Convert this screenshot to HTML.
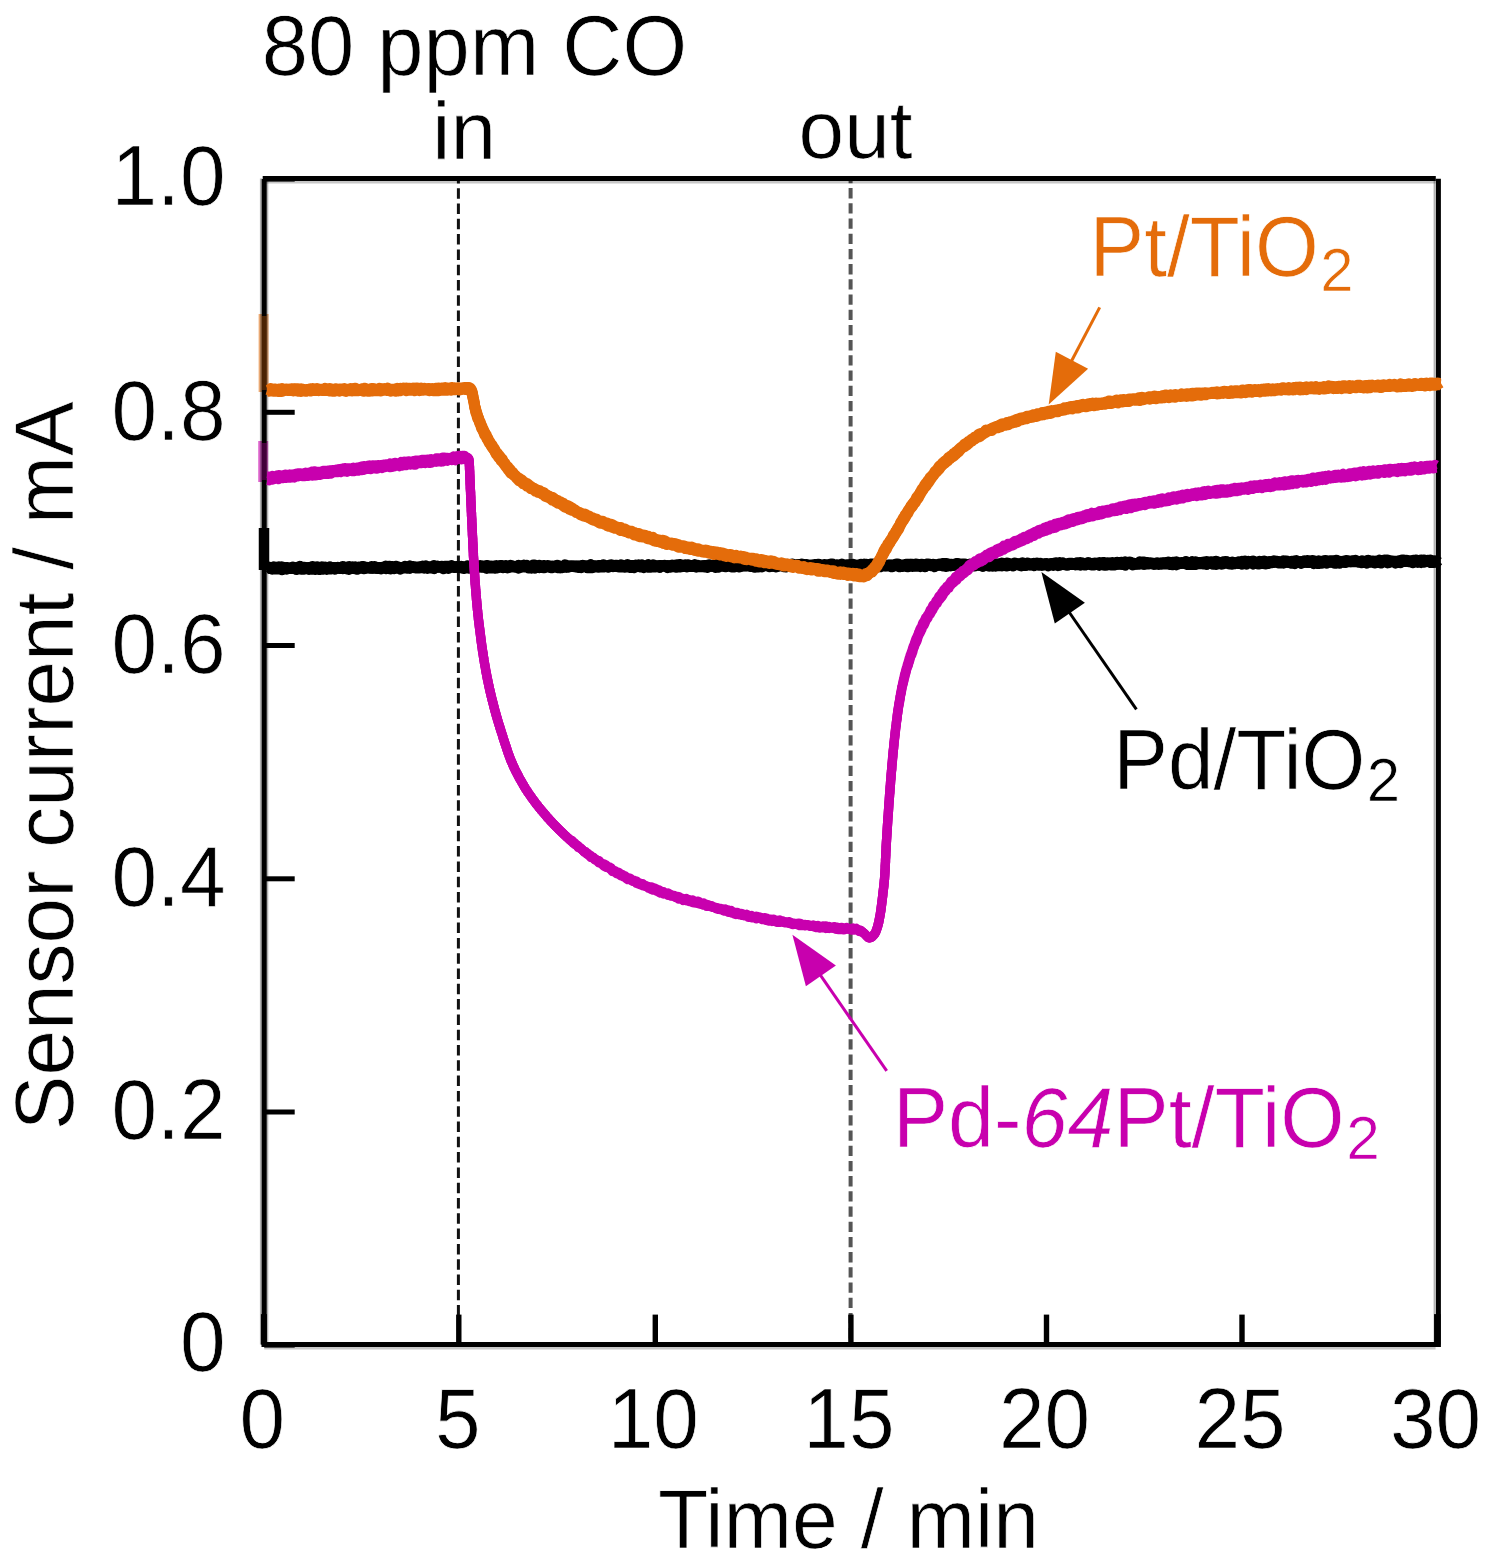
<!DOCTYPE html>
<html lang="en"><head><meta charset="utf-8"><title>Sensor current response to 80 ppm CO</title>
<style>
html,body{margin:0;padding:0;background:#fff;}
body{width:1495px;height:1566px;overflow:hidden;}
svg{display:block;}
text{font-family:"Liberation Sans",Arial,Helvetica,sans-serif;font-size:82px;fill:#000;stroke:#fff;stroke-width:0.7px;}
.sub{font-size:60px;}
.it{font-style:italic;}
</style></head><body>
<svg width="1495" height="1566" viewBox="0 0 1495 1566">
<rect x="0" y="0" width="1495" height="1566" fill="#fff"/>
<line x1="458.4" y1="178.5" x2="458.4" y2="1344.6" stroke="#111" stroke-width="3" stroke-dasharray="10.5 4.8" stroke-dashoffset="5.6"/>
<line x1="850.6" y1="178.5" x2="850.6" y2="1344.6" stroke="#555" stroke-width="4.0" stroke-dasharray="10.3 4.9" stroke-dashoffset="5.6"/>
<g fill="none" stroke-linecap="butt">
<line x1="263.6" y1="314" x2="263.6" y2="392" stroke="#E46C0A" stroke-width="10" opacity="0.55"/>
<line x1="263.2" y1="441" x2="263.2" y2="482" stroke="#C800AE" stroke-width="10" opacity="0.6"/>
<line x1="264.0" y1="528" x2="264.0" y2="570" stroke="#000" stroke-width="10.5"/>
</g>
<g fill="none" stroke="#000" stroke-width="5.0" stroke-linecap="butt">
<line x1="264.2" y1="182.1" x2="1435.6" y2="182.1" stroke="#000" stroke-opacity="0.22" stroke-width="2.6"/>
<line x1="264.2" y1="1348.2" x2="1435.6" y2="1348.2" stroke="#000" stroke-opacity="0.22" stroke-width="2.6"/>
<line x1="261.0" y1="178.5" x2="261.0" y2="1344.6" stroke="#000" stroke-opacity="0.3" stroke-width="2.2"/>
<line x1="267.2" y1="178.5" x2="267.2" y2="1344.6" stroke="#000" stroke-opacity="0.3" stroke-width="2.2"/>
<line x1="1434.6" y1="178.5" x2="1434.6" y2="1344.6" stroke="#000" stroke-opacity="0.3" stroke-width="2.0"/>
<line x1="262.7" y1="178.5" x2="1435.8" y2="178.5"/>
<line x1="261.7" y1="1344.6" x2="1440.1" y2="1344.6"/>
<line x1="264.2" y1="179.0" x2="264.2" y2="1347.1"/>
<line x1="1438.4" y1="178.8" x2="1438.4" y2="1347.1"/>
<line x1="264.2" y1="1112.0" x2="294.7" y2="1112.0"/>
<line x1="264.2" y1="878.8" x2="294.7" y2="878.8"/>
<line x1="264.2" y1="645.5" x2="294.7" y2="645.5"/>
<line x1="264.2" y1="412.3" x2="294.7" y2="412.3"/>
<line x1="458.8" y1="1344.6" x2="458.8" y2="1314.6" stroke-width="5.4"/>
<line x1="655.3" y1="1344.6" x2="655.3" y2="1314.6" stroke-width="5.4"/>
<line x1="850.9" y1="1344.6" x2="850.9" y2="1314.6" stroke-width="5.4"/>
<line x1="1046.5" y1="1344.6" x2="1046.5" y2="1314.6" stroke-width="5.4"/>
<line x1="1242.0" y1="1344.6" x2="1242.0" y2="1314.6" stroke-width="5.4"/>
<line x1="1437.3" y1="1344.6" x2="1437.3" y2="1314.1" stroke-width="6.5"/>
<line x1="263.9" y1="1344.6" x2="263.9" y2="1314.1" stroke-width="6"/>
<line x1="264.2" y1="1344.8" x2="294.7" y2="1344.8" stroke-width="5.6"/>
<line x1="264.2" y1="178.8" x2="294.7" y2="178.8" stroke-width="5.6"/>
</g>
<line x1="264.2" y1="316" x2="264.2" y2="390" stroke="#E46C0A" stroke-width="5" opacity="0.33"/>
<line x1="264.2" y1="443" x2="264.2" y2="480" stroke="#C800AE" stroke-width="5" opacity="0.33"/>
<g fill="none" stroke-linejoin="round" stroke-linecap="butt">
<path d="M267.5 566.8L269.1 567.1L270.7 568.4L272.3 567.9L273.9 566.8L275.5 567.5L277.1 567.6L278.7 566.9L280.3 568.2L281.9 566.8L283.5 567.4L285.1 567.7L286.7 567.5L288.3 567.8L289.9 568.2L291.5 568.6L293.1 567.2L294.7 568.0L296.3 568.1L297.9 567.2L299.5 566.5L301.1 568.7L302.7 567.2L304.3 567.2L305.9 568.5L307.5 567.8L309.1 567.5L310.7 568.2L312.3 566.5L313.9 568.0L315.5 567.3L317.1 566.7L318.7 567.9L320.3 568.5L321.9 566.9L323.5 567.8L325.1 567.1L326.7 568.0L328.3 568.0L329.9 566.9L331.5 568.2L333.1 567.8L334.7 567.9L336.3 568.2L337.9 567.3L339.5 568.0L341.1 568.3L342.7 566.6L344.3 568.2L345.9 567.2L347.5 567.4L349.1 566.6L350.7 567.8L352.3 566.9L353.9 568.2L355.5 566.9L357.1 567.5L358.7 567.1L360.3 567.6L361.9 566.6L363.5 566.6L365.1 567.8L366.7 567.8L368.3 567.4L369.9 568.2L371.5 566.6L373.1 568.0L374.7 566.5L376.3 568.2L377.9 567.4L379.5 567.4L381.1 568.2L382.7 567.8L384.3 567.8L385.9 566.1L387.5 566.8L389.1 566.2L390.7 566.4L392.3 566.4L393.9 567.8L395.5 566.2L397.1 566.6L398.7 567.0L400.3 567.7L401.9 568.0L403.5 567.4L405.1 566.3L406.7 567.0L408.3 567.4L409.9 565.9L411.5 567.3L413.1 566.6L414.7 567.0L416.3 567.2L417.9 567.2L419.5 566.9L421.1 566.9L422.7 566.1L424.3 566.7L425.9 565.9L427.5 566.7L429.1 566.8L430.7 567.3L432.3 566.5L433.9 565.6L435.5 566.7L437.1 566.0L438.7 567.2L440.3 566.4L441.9 566.3L443.5 567.5L445.1 566.3L446.7 566.2L448.3 566.2L449.9 566.5L451.5 565.6L453.1 566.6L454.7 567.4L456.3 566.6L457.9 567.0L459.5 567.5L461.1 567.2L462.7 567.0L464.3 567.1L465.9 567.1L467.5 565.9L469.1 566.4L470.7 566.0L472.3 565.9L473.9 566.5L475.5 566.0L477.1 566.6L478.7 566.5L480.3 565.5L481.9 566.2L483.5 566.1L485.1 566.8L486.7 565.4L488.3 565.6L489.9 566.3L491.5 566.1L493.1 566.6L494.7 565.9L496.3 565.6L497.9 567.2L499.5 565.7L501.1 565.4L502.7 565.7L504.3 565.9L505.9 565.6L507.5 566.3L509.1 567.1L510.7 565.3L512.3 566.0L513.9 566.5L515.5 567.0L517.1 567.2L518.7 565.3L520.3 566.2L521.9 566.9L523.5 565.1L525.1 566.3L526.7 565.4L528.3 566.7L529.9 567.0L531.5 566.1L533.1 565.0L534.7 565.1L536.3 565.8L537.9 566.8L539.5 565.4L541.1 566.4L542.7 565.8L544.3 565.5L545.9 566.4L547.5 565.6L549.1 565.7L550.7 566.5L552.3 565.9L553.9 566.6L555.5 566.0L557.1 565.2L558.7 565.8L560.3 566.7L561.9 566.0L563.5 566.9L565.1 564.8L566.7 565.5L568.3 566.5L569.9 566.3L571.5 566.0L573.1 566.2L574.7 566.7L576.3 566.2L577.9 565.9L579.5 566.0L581.1 566.2L582.7 565.4L584.3 566.2L585.9 566.0L587.5 566.4L589.1 565.7L590.7 564.7L592.3 565.8L593.9 566.5L595.5 566.1L597.1 566.1L598.7 565.5L600.3 565.4L601.9 566.2L603.5 564.8L605.1 566.5L606.7 566.5L608.3 566.7L609.9 564.9L611.5 564.8L613.1 566.5L614.7 565.5L616.3 565.2L617.9 565.4L619.5 566.0L621.1 564.9L622.7 565.6L624.3 566.0L625.9 566.1L627.5 564.5L629.1 566.3L630.7 565.5L632.3 565.5L633.9 565.7L635.5 565.1L637.1 566.4L638.7 564.9L640.3 565.7L641.9 564.8L643.5 565.8L645.1 566.4L646.7 566.4L648.3 564.7L649.9 565.8L651.5 566.4L653.1 564.9L654.7 565.3L656.3 566.0L657.9 566.0L659.5 565.4L661.1 565.8L662.7 565.9L664.3 565.2L665.9 565.8L667.5 565.6L669.1 565.9L670.7 565.5L672.3 565.1L673.9 565.3L675.5 566.4L677.1 564.8L678.7 564.7L680.3 564.4L681.9 566.2L683.5 566.5L685.1 564.8L686.7 564.9L688.3 564.7L689.9 565.6L691.5 565.4L693.1 566.1L694.7 564.7L696.3 566.2L697.9 565.3L699.5 566.1L701.1 566.0L702.7 566.3L704.3 565.4L705.9 565.6L707.5 565.5L709.1 564.7L710.7 565.3L712.3 566.3L713.9 566.2L715.5 564.3L717.1 565.7L718.7 564.9L720.3 564.5L721.9 564.5L723.5 566.0L725.1 566.3L726.7 565.3L728.3 565.0L729.9 565.3L731.5 566.0L733.1 565.8L734.7 564.3L736.3 564.6L737.9 566.1L739.5 565.2L741.1 565.6L742.7 565.9L744.3 565.6L745.9 565.8L747.5 565.3L749.1 564.6L750.7 564.5L752.3 566.3L753.9 564.1L755.5 565.6L757.1 566.1L758.7 564.6L760.3 564.2L761.9 565.0L763.5 564.8L765.1 565.1L766.7 565.0L768.3 566.2L769.9 564.3L771.5 566.2L773.1 564.2L774.7 566.1L776.3 564.8L777.9 565.7L779.5 564.1L781.1 565.0L782.7 565.5L784.3 565.4L785.9 565.8L787.5 564.4L789.1 564.9L790.7 565.4L792.3 564.1L793.9 565.9L795.5 564.9L797.1 564.5L798.7 564.5L800.3 565.4L801.9 564.1L803.5 564.5L805.1 564.7L806.7 564.5L808.3 565.6L809.9 565.3L811.5 566.0L813.1 565.5L814.7 564.6L816.3 564.7L817.9 564.2L819.5 564.5L821.1 565.3L822.7 565.5L824.3 564.6L825.9 564.7L827.5 565.7L829.1 566.0L830.7 564.1L832.3 564.1L833.9 565.6L835.5 565.0L837.1 564.8L838.7 565.3L840.3 565.6L841.9 564.0L843.5 566.0L845.1 566.0L846.7 564.8L848.3 564.9L849.9 564.5L851.5 565.2L853.1 564.3L854.7 565.0L856.3 565.8L857.9 565.0L859.5 565.7L861.1 564.2L862.7 565.8L864.3 564.1L865.9 564.3L867.5 565.4L869.1 564.5L870.7 564.1L872.3 564.0L873.9 565.5L875.5 563.8L877.1 563.9L878.7 565.9L880.3 565.5L881.9 564.6L883.5 564.2L885.1 565.7L886.7 565.5L888.3 565.2L889.9 564.9L891.5 564.9L893.1 565.9L894.7 564.9L896.3 563.9L897.9 563.9L899.5 565.0L901.1 565.3L902.7 565.1L904.3 565.3L905.9 564.3L907.5 564.5L909.1 564.2L910.7 564.5L912.3 564.2L913.9 565.5L915.5 563.9L917.1 564.1L918.7 565.2L920.3 564.5L921.9 564.3L923.5 565.7L925.1 565.5L926.7 564.0L928.3 563.9L929.9 564.6L931.5 564.8L933.1 564.3L934.7 564.8L936.3 565.0L937.9 565.3L939.5 564.0L941.1 564.9L942.7 563.6L944.3 563.6L945.9 563.5L947.5 563.7L949.1 565.1L950.7 564.2L952.3 564.5L953.9 564.4L955.5 563.8L957.1 563.4L958.7 563.7L960.3 565.2L961.9 564.0L963.5 564.2L965.1 563.9L966.7 564.9L968.3 564.8L969.9 564.1L971.5 564.3L973.1 564.1L974.7 564.5L976.3 564.5L977.9 564.4L979.5 565.1L981.1 565.2L982.7 563.2L984.3 564.0L985.9 563.2L987.5 563.9L989.1 564.8L990.7 564.6L992.3 564.3L993.9 563.2L995.5 564.8L997.1 564.4L998.7 563.7L1000.3 564.7L1001.9 563.1L1003.5 563.4L1005.1 564.7L1006.7 563.1L1008.3 563.2L1009.9 564.0L1011.5 564.5L1013.1 564.2L1014.7 563.0L1016.3 563.5L1017.9 564.4L1019.5 563.6L1021.1 563.3L1022.7 562.8L1024.3 563.4L1025.9 564.9L1027.5 562.9L1029.1 564.0L1030.7 564.8L1032.3 564.3L1033.9 563.4L1035.5 564.2L1037.1 563.0L1038.7 563.8L1040.3 563.3L1041.9 564.6L1043.5 564.6L1045.1 564.3L1046.7 563.5L1048.3 564.4L1049.9 564.8L1051.5 563.4L1053.1 563.7L1054.7 562.9L1056.3 562.8L1057.9 564.1L1059.5 562.7L1061.1 563.9L1062.7 562.8L1064.3 564.0L1065.9 564.2L1067.5 564.6L1069.1 563.3L1070.7 563.3L1072.3 563.3L1073.9 564.0L1075.5 564.1L1077.1 562.7L1078.7 563.1L1080.3 562.5L1081.9 562.9L1083.5 564.0L1085.1 564.4L1086.7 564.5L1088.3 562.5L1089.9 563.2L1091.5 564.2L1093.1 563.4L1094.7 563.0L1096.3 564.0L1097.9 564.1L1099.5 562.5L1101.1 563.3L1102.7 562.5L1104.3 562.6L1105.9 563.3L1107.5 562.7L1109.1 563.9L1110.7 562.9L1112.3 562.5L1113.9 563.5L1115.5 562.7L1117.1 562.2L1118.7 564.3L1120.3 562.5L1121.9 562.3L1123.5 563.1L1125.1 562.0L1126.7 563.7L1128.3 562.2L1129.9 562.1L1131.5 564.1L1133.1 563.1L1134.7 564.0L1136.3 563.9L1137.9 563.5L1139.5 562.0L1141.1 563.3L1142.7 562.0L1144.3 561.9L1145.9 563.7L1147.5 562.5L1149.1 563.5L1150.7 563.0L1152.3 563.5L1153.9 563.2L1155.5 563.9L1157.1 562.8L1158.7 563.6L1160.3 563.5L1161.9 563.0L1163.5 562.8L1165.1 562.6L1166.7 563.1L1168.3 562.1L1169.9 562.6L1171.5 563.1L1173.1 562.3L1174.7 562.1L1176.3 561.8L1177.9 563.4L1179.5 563.5L1181.1 563.4L1182.7 563.1L1184.3 562.9L1185.9 561.6L1187.5 563.4L1189.1 562.5L1190.7 563.0L1192.3 561.7L1193.9 563.1L1195.5 561.8L1197.1 563.5L1198.7 563.0L1200.3 562.6L1201.9 562.8L1203.5 561.9L1205.1 562.5L1206.7 561.5L1208.3 561.9L1209.9 561.9L1211.5 561.7L1213.1 562.2L1214.7 561.4L1216.3 561.3L1217.9 562.0L1219.5 563.4L1221.1 562.8L1222.7 562.1L1224.3 561.6L1225.9 561.4L1227.5 562.1L1229.1 562.6L1230.7 563.0L1232.3 562.1L1233.9 563.0L1235.5 562.9L1237.1 563.0L1238.7 561.8L1240.3 562.1L1241.9 561.4L1243.5 562.3L1245.1 561.1L1246.7 562.0L1248.3 561.3L1249.9 562.0L1251.5 561.4L1253.1 560.9L1254.7 561.9L1256.3 561.9L1257.9 562.1L1259.5 561.2L1261.1 562.0L1262.7 561.5L1264.3 561.0L1265.9 561.7L1267.5 562.3L1269.1 561.5L1270.7 562.3L1272.3 562.5L1273.9 560.8L1275.5 561.2L1277.1 561.3L1278.7 562.0L1280.3 561.8L1281.9 561.9L1283.5 560.8L1285.1 561.3L1286.7 561.0L1288.3 562.3L1289.9 562.1L1291.5 561.3L1293.1 562.5L1294.7 560.9L1296.3 560.6L1297.9 561.4L1299.5 562.0L1301.1 562.6L1302.7 561.6L1304.3 560.8L1305.9 561.8L1307.5 560.5L1309.1 562.2L1310.7 561.1L1312.3 560.6L1313.9 560.7L1315.5 562.2L1317.1 562.4L1318.7 560.8L1320.3 562.5L1321.9 562.2L1323.5 561.0L1325.1 560.4L1326.7 560.6L1328.3 561.2L1329.9 560.7L1331.5 560.7L1333.1 560.8L1334.7 562.2L1336.3 560.3L1337.9 562.2L1339.5 561.2L1341.1 561.8L1342.7 561.3L1344.3 562.2L1345.9 560.5L1347.5 560.7L1349.1 561.2L1350.7 561.2L1352.3 560.8L1353.9 560.7L1355.5 560.3L1357.1 561.2L1358.7 561.9L1360.3 561.9L1361.9 560.9L1363.5 562.2L1365.1 562.1L1366.7 560.7L1368.3 560.2L1369.9 561.8L1371.5 562.0L1373.1 561.4L1374.7 562.1L1376.3 561.0L1377.9 561.1L1379.5 560.1L1381.1 560.7L1382.7 561.9L1384.3 560.1L1385.9 560.2L1387.5 559.9L1389.1 560.9L1390.7 561.2L1392.3 561.0L1393.9 561.8L1395.5 561.3L1397.1 561.2L1398.7 561.1L1400.3 560.9L1401.9 559.9L1403.5 560.0L1405.1 561.2L1406.7 560.2L1408.3 560.7L1409.9 561.2L1411.5 561.0L1413.1 560.3L1414.7 560.3L1416.3 560.0L1417.9 561.1L1419.5 561.3L1421.1 560.0L1422.7 560.3L1424.3 560.0L1425.9 561.0L1427.5 560.3L1429.1 561.6L1430.7 560.2L1432.3 561.0L1433.9 561.0L1435.5 561.7L1437.1 561.2L1437.5 561.7" stroke="#000" stroke-width="11.0"/>
<path d="M267.5 568.9L269.1 567.6L270.7 568.3L272.3 569.2L273.9 568.3L275.5 569.0L277.1 567.8L278.7 569.0L280.3 568.4L281.9 569.7L283.5 567.7L285.1 568.4L286.7 569.2L288.3 568.4L289.9 568.6L291.5 568.3L293.1 567.8L294.7 568.2L296.3 569.5L297.9 569.2L299.5 568.2L301.1 569.0L302.7 569.3L304.3 569.3L305.9 567.6L307.5 567.9L309.1 569.6L310.7 568.1L312.3 569.2L313.9 568.9L315.5 569.4L317.1 567.6L318.7 569.5L320.3 569.4L321.9 568.0L323.5 569.0L325.1 567.4L326.7 569.3L328.3 568.3L329.9 569.0L331.5 569.1L333.1 567.4L334.7 569.3L336.3 567.6L337.9 567.7L339.5 568.4L341.1 567.9L342.7 568.8L344.3 567.7L345.9 568.7L347.5 569.0L349.1 569.4L350.7 568.2L352.3 567.9L353.9 568.5L355.5 568.7L357.1 569.3L358.7 568.5L360.3 568.2L361.9 567.9L363.5 568.8L365.1 568.6L366.7 567.3L368.3 567.8L369.9 567.5L371.5 568.2L373.1 568.0L374.7 567.5L376.3 568.3L377.9 568.5L379.5 567.8L381.1 568.9L382.7 567.3L384.3 567.1L385.9 568.6L387.5 568.2L389.1 568.6L390.7 569.0L392.3 568.1L393.9 568.7L395.5 568.3L397.1 568.0L398.7 568.0L400.3 569.1L401.9 567.6L403.5 567.8L405.1 567.9L406.7 568.2L408.3 566.9L409.9 568.2L411.5 566.9L413.1 567.6L414.7 567.7L416.3 568.0L417.9 568.0L419.5 568.0L421.1 566.7L422.7 567.4L424.3 568.3L425.9 567.6L427.5 568.4L429.1 567.8L430.7 567.9L432.3 568.1L433.9 568.7L435.5 566.6L437.1 566.8L438.7 566.7L440.3 567.0L441.9 566.5L443.5 568.7L445.1 566.8L446.7 567.5L448.3 568.4L449.9 567.5L451.5 567.0L453.1 567.1L454.7 567.3L456.3 567.1L457.9 567.4L459.5 567.3L461.1 566.5L462.7 568.3L464.3 568.5L465.9 567.6L467.5 566.5L469.1 568.3L470.7 567.1L472.3 567.1L473.9 566.8L475.5 568.3L477.1 567.8L478.7 566.9L480.3 567.1L481.9 567.2L483.5 567.1L485.1 567.7L486.7 568.3L488.3 566.3L489.9 568.0L491.5 568.0L493.1 566.6L494.7 568.3L496.3 568.1L497.9 567.7L499.5 566.4L501.1 567.1L502.7 567.8L504.3 567.3L505.9 566.2L507.5 567.8L509.1 567.0L510.7 566.6L512.3 566.8L513.9 566.3L515.5 566.8L517.1 566.1L518.7 568.2L520.3 566.3L521.9 566.8L523.5 566.7L525.1 567.0L526.7 566.7L528.3 567.9L529.9 566.4L531.5 568.2L533.1 566.8L534.7 568.1L536.3 566.7L537.9 566.1L539.5 567.7L541.1 566.3L542.7 567.5L544.3 567.8L545.9 566.4L547.5 566.6L549.1 567.1L550.7 567.8L552.3 567.7L553.9 566.9L555.5 567.1L557.1 567.6L558.7 566.2L560.3 567.9L561.9 567.7L563.5 566.3L565.1 567.2L566.7 567.4L568.3 567.2L569.9 565.9L571.5 565.9L573.1 566.2L574.7 566.0L576.3 566.8L577.9 567.4L579.5 567.0L581.1 567.7L582.7 566.8L584.3 566.7L585.9 566.0L587.5 567.8L589.1 567.2L590.7 567.8L592.3 567.7L593.9 565.8L595.5 567.0L597.1 566.7L598.7 567.3L600.3 565.7L601.9 567.1L603.5 567.0L605.1 566.4L606.7 565.9L608.3 567.1L609.9 565.7L611.5 566.3L613.1 565.6L614.7 566.2L616.3 566.1L617.9 566.9L619.5 567.1L621.1 567.1L622.7 566.4L624.3 567.2L625.9 567.0L627.5 566.7L629.1 567.2L630.7 567.6L632.3 566.6L633.9 567.6L635.5 566.9L637.1 566.3L638.7 566.5L640.3 566.9L641.9 566.2L643.5 567.5L645.1 566.3L646.7 566.8L648.3 567.3L649.9 567.3L651.5 566.9L653.1 567.0L654.7 567.1L656.3 566.7L657.9 566.4L659.5 567.4L661.1 565.7L662.7 565.7L664.3 566.1L665.9 565.9L667.5 567.5L669.1 566.5L670.7 567.3L672.3 566.6L673.9 565.8L675.5 567.3L677.1 567.3L678.7 565.6L680.3 567.0L681.9 566.6L683.5 565.7L685.1 566.1L686.7 566.9L688.3 565.7L689.9 566.6L691.5 566.5L693.1 566.5L694.7 565.7L696.3 567.1L697.9 566.5L699.5 566.8L701.1 566.7L702.7 566.0L704.3 566.9L705.9 566.1L707.5 567.3L709.1 566.3L710.7 565.7L712.3 566.3L713.9 566.1L715.5 567.3L717.1 565.9L718.7 567.2L720.3 565.3L721.9 565.5L723.5 565.9L725.1 566.8L726.7 566.5L728.3 566.1L729.9 566.1L731.5 567.0L733.1 565.7L734.7 566.9L736.3 566.0L737.9 566.7L739.5 567.0L741.1 566.1L742.7 565.6L744.3 565.7L745.9 565.7L747.5 565.4L749.1 566.1L750.7 566.6L752.3 566.0L753.9 567.2L755.5 567.2L757.1 566.8L758.7 566.9L760.3 565.8L761.9 566.8L763.5 565.2L765.1 565.1L766.7 565.2L768.3 565.8L769.9 566.7L771.5 565.1L773.1 565.9L774.7 566.4L776.3 566.9L777.9 566.3L779.5 565.6L781.1 565.2L782.7 566.2L784.3 566.8L785.9 566.9L787.5 566.4L789.1 565.4L790.7 565.2L792.3 565.1L793.9 565.6L795.5 566.2L797.1 565.3L798.7 566.4L800.3 565.7L801.9 566.7L803.5 566.2L805.1 566.7L806.7 565.5L808.3 566.2L809.9 566.9L811.5 565.0L813.1 567.0L814.7 566.3L816.3 567.1L817.9 565.6L819.5 566.0L821.1 566.4L822.7 566.2L824.3 566.3L825.9 566.8L827.5 565.3L829.1 566.5L830.7 565.9L832.3 566.9L833.9 567.0L835.5 565.9L837.1 565.7L838.7 566.9L840.3 567.0L841.9 566.6L843.5 566.9L845.1 567.0L846.7 565.9L848.3 565.7L849.9 565.0L851.5 565.8L853.1 565.3L854.7 566.4L856.3 566.2L857.9 566.9L859.5 566.4L861.1 565.4L862.7 565.7L864.3 565.9L865.9 566.0L867.5 566.9L869.1 566.2L870.7 565.5L872.3 565.4L873.9 566.1L875.5 565.0L877.1 565.8L878.7 566.8L880.3 566.8L881.9 566.0L883.5 566.0L885.1 565.5L886.7 566.0L888.3 565.8L889.9 566.2L891.5 566.8L893.1 566.4L894.7 565.0L896.3 565.1L897.9 566.2L899.5 566.8L901.1 566.0L902.7 566.5L904.3 565.3L905.9 565.2L907.5 566.8L909.1 566.6L910.7 565.6L912.3 566.4L913.9 566.0L915.5 566.3L917.1 565.9L918.7 566.1L920.3 566.7L921.9 565.5L923.5 566.2L925.1 566.7L926.7 564.6L928.3 565.1L929.9 565.3L931.5 565.8L933.1 565.5L934.7 566.6L936.3 564.9L937.9 565.2L939.5 564.6L941.1 564.8L942.7 565.8L944.3 564.5L945.9 566.5L947.5 566.1L949.1 564.6L950.7 566.1L952.3 564.6L953.9 565.5L955.5 564.8L957.1 564.7L958.7 565.5L960.3 566.3L961.9 564.5L963.5 564.7L965.1 565.3L966.7 566.4L968.3 565.0L969.9 566.1L971.5 565.4L973.1 565.2L974.7 565.9L976.3 564.6L977.9 565.3L979.5 564.2L981.1 565.3L982.7 566.3L984.3 564.3L985.9 564.3L987.5 565.4L989.1 566.1L990.7 565.3L992.3 566.2L993.9 564.7L995.5 566.2L997.1 564.5L998.7 565.7L1000.3 564.7L1001.9 565.8L1003.5 564.1L1005.1 564.6L1006.7 566.0L1008.3 565.6L1009.9 565.0L1011.5 564.7L1013.1 566.0L1014.7 564.3L1016.3 564.3L1017.9 564.0L1019.5 565.3L1021.1 565.9L1022.7 564.1L1024.3 565.5L1025.9 565.5L1027.5 564.2L1029.1 564.9L1030.7 565.0L1032.3 563.9L1033.9 565.8L1035.5 564.0L1037.1 564.0L1038.7 565.3L1040.3 564.8L1041.9 565.4L1043.5 565.1L1045.1 563.9L1046.7 564.6L1048.3 565.8L1049.9 564.3L1051.5 564.0L1053.1 565.5L1054.7 563.8L1056.3 564.5L1057.9 565.7L1059.5 565.4L1061.1 563.8L1062.7 563.7L1064.3 564.6L1065.9 565.0L1067.5 565.3L1069.1 563.9L1070.7 564.4L1072.3 564.4L1073.9 564.1L1075.5 564.9L1077.1 564.6L1078.7 564.3L1080.3 565.1L1081.9 564.0L1083.5 564.7L1085.1 565.1L1086.7 564.1L1088.3 563.4L1089.9 563.3L1091.5 565.0L1093.1 565.1L1094.7 564.8L1096.3 563.3L1097.9 563.8L1099.5 565.3L1101.1 564.4L1102.7 564.1L1104.3 565.3L1105.9 565.3L1107.5 563.7L1109.1 564.7L1110.7 564.9L1112.3 565.0L1113.9 565.1L1115.5 564.7L1117.1 563.2L1118.7 563.7L1120.3 563.5L1121.9 564.4L1123.5 564.2L1125.1 565.2L1126.7 563.5L1128.3 563.3L1129.9 563.0L1131.5 563.4L1133.1 564.9L1134.7 564.3L1136.3 563.5L1137.9 564.2L1139.5 564.3L1141.1 563.6L1142.7 562.9L1144.3 564.4L1145.9 564.1L1147.5 563.0L1149.1 563.9L1150.7 563.1L1152.3 563.7L1153.9 564.4L1155.5 564.1L1157.1 563.5L1158.7 564.4L1160.3 563.3L1161.9 564.1L1163.5 563.3L1165.1 564.1L1166.7 563.9L1168.3 564.0L1169.9 564.5L1171.5 564.4L1173.1 564.8L1174.7 563.1L1176.3 564.8L1177.9 564.1L1179.5 562.9L1181.1 562.6L1182.7 563.1L1184.3 563.5L1185.9 563.9L1187.5 564.5L1189.1 564.3L1190.7 564.5L1192.3 564.4L1193.9 564.4L1195.5 564.6L1197.1 564.1L1198.7 562.7L1200.3 563.7L1201.9 563.4L1203.5 563.9L1205.1 563.0L1206.7 564.4L1208.3 563.0L1209.9 563.3L1211.5 562.7L1213.1 564.3L1214.7 564.3L1216.3 564.4L1217.9 562.7L1219.5 563.0L1221.1 564.2L1222.7 564.1L1224.3 562.4L1225.9 563.2L1227.5 562.3L1229.1 564.0L1230.7 564.0L1232.3 564.2L1233.9 563.9L1235.5 563.0L1237.1 562.9L1238.7 563.5L1240.3 563.0L1241.9 564.2L1243.5 563.0L1245.1 563.0L1246.7 564.1L1248.3 562.6L1249.9 562.7L1251.5 562.1L1253.1 564.0L1254.7 563.1L1256.3 562.9L1257.9 563.9L1259.5 563.9L1261.1 562.3L1262.7 562.1L1264.3 563.8L1265.9 563.9L1267.5 563.0L1269.1 563.4L1270.7 561.8L1272.3 562.8L1273.9 561.9L1275.5 562.0L1277.1 561.8L1278.7 562.9L1280.3 563.0L1281.9 562.6L1283.5 563.2L1285.1 561.8L1286.7 562.1L1288.3 562.0L1289.9 562.7L1291.5 563.3L1293.1 562.0L1294.7 563.5L1296.3 562.3L1297.9 562.0L1299.5 562.1L1301.1 563.2L1302.7 561.5L1304.3 562.4L1305.9 562.1L1307.5 562.6L1309.1 562.3L1310.7 561.6L1312.3 561.7L1313.9 563.5L1315.5 562.6L1317.1 563.4L1318.7 563.5L1320.3 562.7L1321.9 563.3L1323.5 562.2L1325.1 562.0L1326.7 563.1L1328.3 562.0L1329.9 561.8L1331.5 562.3L1333.1 562.1L1334.7 563.3L1336.3 563.2L1337.9 562.8L1339.5 563.2L1341.1 561.7L1342.7 561.7L1344.3 561.9L1345.9 562.4L1347.5 561.2L1349.1 561.3L1350.7 561.7L1352.3 561.3L1353.9 561.6L1355.5 561.3L1357.1 561.7L1358.7 562.0L1360.3 562.2L1361.9 562.8L1363.5 561.6L1365.1 561.8L1366.7 562.9L1368.3 561.0L1369.9 562.1L1371.5 561.2L1373.1 561.0L1374.7 562.9L1376.3 562.4L1377.9 561.9L1379.5 562.7L1381.1 563.0L1382.7 562.2L1384.3 561.9L1385.9 560.9L1387.5 562.9L1389.1 562.6L1390.7 561.1L1392.3 561.8L1393.9 561.4L1395.5 562.9L1397.1 561.5L1398.7 561.1L1400.3 562.8L1401.9 561.4L1403.5 561.1L1405.1 560.9L1406.7 561.1L1408.3 561.7L1409.9 561.3L1411.5 562.2L1413.1 562.7L1414.7 561.0L1416.3 560.8L1417.9 562.4L1419.5 562.1L1421.1 562.6L1422.7 560.9L1424.3 562.2L1425.9 561.3L1427.5 561.1L1429.1 561.5L1430.7 562.5L1432.3 562.4L1433.9 562.5L1435.5 561.1L1437.1 561.6L1437.5 561.0" stroke="#000" stroke-width="11.0"/>
<path d="M267.5 568.2L269.1 568.2L270.7 568.2L272.3 568.2L273.9 568.2L275.5 568.2L277.1 568.2L278.7 568.2L280.3 568.2L281.9 568.2L283.5 568.2L285.1 568.2L286.7 568.2L288.3 568.2L289.9 568.1L291.5 568.1L293.1 568.1L294.7 568.1L296.3 568.1L297.9 568.1L299.5 568.1L301.1 568.1L302.7 568.1L304.3 568.1L305.9 568.1L307.5 568.1L309.1 568.1L310.7 568.1L312.3 568.1L313.9 568.1L315.5 568.1L317.1 568.1L318.7 568.0L320.3 568.0L321.9 568.0L323.5 568.0L325.1 568.0L326.7 568.0L328.3 568.0L329.9 568.0L331.5 568.0L333.1 568.0L334.7 568.0L336.3 568.0L337.9 568.0L339.5 568.0L341.1 567.9L342.7 567.9L344.3 567.9L345.9 567.9L347.5 567.9L349.1 567.9L350.7 567.9L352.3 567.9L353.9 567.9L355.5 567.9L357.1 567.8L358.7 567.8L360.3 567.8L361.9 567.8L363.5 567.8L365.1 567.8L366.7 567.8L368.3 567.8L369.9 567.7L371.5 567.7L373.1 567.7L374.7 567.7L376.3 567.7L377.9 567.7L379.5 567.7L381.1 567.6L382.7 567.6L384.3 567.6L385.9 567.6L387.5 567.6L389.1 567.6L390.7 567.6L392.3 567.5L393.9 567.5L395.5 567.5L397.1 567.5L398.7 567.5L400.3 567.5L401.9 567.5L403.5 567.4L405.1 567.4L406.7 567.4L408.3 567.4L409.9 567.4L411.5 567.4L413.1 567.4L414.7 567.3L416.3 567.3L417.9 567.3L419.5 567.3L421.1 567.3L422.7 567.3L424.3 567.3L425.9 567.2L427.5 567.2L429.1 567.2L430.7 567.2L432.3 567.2L433.9 567.2L435.5 567.2L437.1 567.1L438.7 567.1L440.3 567.1L441.9 567.1L443.5 567.1L445.1 567.1L446.7 567.1L448.3 567.1L449.9 567.0L451.5 567.0L453.1 567.0L454.7 567.0L456.3 567.0L457.9 567.0L459.5 567.0L461.1 567.0L462.7 566.9L464.3 566.9L465.9 566.9L467.5 566.9L469.1 566.9L470.7 566.9L472.3 566.9L473.9 566.9L475.5 566.9L477.1 566.9L478.7 566.8L480.3 566.8L481.9 566.8L483.5 566.8L485.1 566.8L486.7 566.8L488.3 566.8L489.9 566.8L491.5 566.8L493.1 566.8L494.7 566.8L496.3 566.7L497.9 566.7L499.5 566.7L501.1 566.7L502.7 566.7L504.3 566.7L505.9 566.7L507.5 566.7L509.1 566.7L510.7 566.7L512.3 566.7L513.9 566.7L515.5 566.6L517.1 566.6L518.7 566.6L520.3 566.6L521.9 566.6L523.5 566.6L525.1 566.6L526.7 566.6L528.3 566.6L529.9 566.6L531.5 566.6L533.1 566.5L534.7 566.5L536.3 566.5L537.9 566.5L539.5 566.5L541.1 566.5L542.7 566.5L544.3 566.5L545.9 566.5L547.5 566.5L549.1 566.5L550.7 566.5L552.3 566.5L553.9 566.4L555.5 566.4L557.1 566.4L558.7 566.4L560.3 566.4L561.9 566.4L563.5 566.4L565.1 566.4L566.7 566.4L568.3 566.4L569.9 566.4L571.5 566.4L573.1 566.4L574.7 566.3L576.3 566.3L577.9 566.3L579.5 566.3L581.1 566.3L582.7 566.3L584.3 566.3L585.9 566.3L587.5 566.3L589.1 566.3L590.7 566.3L592.3 566.3L593.9 566.3L595.5 566.3L597.1 566.2L598.7 566.2L600.3 566.2L601.9 566.2L603.5 566.2L605.1 566.2L606.7 566.2L608.3 566.2L609.9 566.2L611.5 566.2L613.1 566.2L614.7 566.2L616.3 566.2L617.9 566.2L619.5 566.2L621.1 566.1L622.7 566.1L624.3 566.1L625.9 566.1L627.5 566.1L629.1 566.1L630.7 566.1L632.3 566.1L633.9 566.1L635.5 566.1L637.1 566.1L638.7 566.1L640.3 566.1L641.9 566.1L643.5 566.1L645.1 566.1L646.7 566.0L648.3 566.0L649.9 566.0L651.5 566.0L653.1 566.0L654.7 566.0L656.3 566.0L657.9 566.0L659.5 566.0L661.1 566.0L662.7 566.0L664.3 566.0L665.9 566.0L667.5 566.0L669.1 566.0L670.7 566.0L672.3 566.0L673.9 566.0L675.5 565.9L677.1 565.9L678.7 565.9L680.3 565.9L681.9 565.9L683.5 565.9L685.1 565.9L686.7 565.9L688.3 565.9L689.9 565.9L691.5 565.9L693.1 565.9L694.7 565.9L696.3 565.9L697.9 565.9L699.5 565.9L701.1 565.9L702.7 565.9L704.3 565.9L705.9 565.9L707.5 565.9L709.1 565.8L710.7 565.8L712.3 565.8L713.9 565.8L715.5 565.8L717.1 565.8L718.7 565.8L720.3 565.8L721.9 565.8L723.5 565.8L725.1 565.8L726.7 565.8L728.3 565.8L729.9 565.8L731.5 565.8L733.1 565.8L734.7 565.8L736.3 565.8L737.9 565.8L739.5 565.8L741.1 565.8L742.7 565.8L744.3 565.8L745.9 565.7L747.5 565.7L749.1 565.7L750.7 565.7L752.3 565.7L753.9 565.7L755.5 565.7L757.1 565.7L758.7 565.7L760.3 565.7L761.9 565.7L763.5 565.7L765.1 565.7L766.7 565.7L768.3 565.7L769.9 565.7L771.5 565.7L773.1 565.7L774.7 565.7L776.3 565.7L777.9 565.7L779.5 565.7L781.1 565.7L782.7 565.6L784.3 565.6L785.9 565.6L787.5 565.6L789.1 565.6L790.7 565.6L792.3 565.6L793.9 565.6L795.5 565.6L797.1 565.6L798.7 565.6L800.3 565.6L801.9 565.6L803.5 565.6L805.1 565.6L806.7 565.6L808.3 565.6L809.9 565.6L811.5 565.6L813.1 565.6L814.7 565.6L816.3 565.6L817.9 565.6L819.5 565.5L821.1 565.5L822.7 565.5L824.3 565.5L825.9 565.5L827.5 565.5L829.1 565.5L830.7 565.5L832.3 565.5L833.9 565.5L835.5 565.5L837.1 565.5L838.7 565.5L840.3 565.5L841.9 565.5L843.5 565.5L845.1 565.5L846.7 565.5L848.3 565.5L849.9 565.5L851.5 565.5L853.1 565.5L854.7 565.5L856.3 565.4L857.9 565.4L859.5 565.4L861.1 565.4L862.7 565.4L864.3 565.4L865.9 565.4L867.5 565.4L869.1 565.4L870.7 565.4L872.3 565.4L873.9 565.4L875.5 565.4L877.1 565.4L878.7 565.4L880.3 565.4L881.9 565.4L883.5 565.4L885.1 565.4L886.7 565.4L888.3 565.3L889.9 565.3L891.5 565.3L893.1 565.3L894.7 565.3L896.3 565.3L897.9 565.3L899.5 565.3L901.1 565.3L902.7 565.3L904.3 565.3L905.9 565.3L907.5 565.3L909.1 565.3L910.7 565.2L912.3 565.2L913.9 565.2L915.5 565.2L917.1 565.2L918.7 565.2L920.3 565.2L921.9 565.2L923.5 565.2L925.1 565.2L926.7 565.2L928.3 565.1L929.9 565.1L931.5 565.1L933.1 565.1L934.7 565.1L936.3 565.1L937.9 565.1L939.5 565.1L941.1 565.1L942.7 565.0L944.3 565.0L945.9 565.0L947.5 565.0L949.1 565.0L950.7 565.0L952.3 565.0L953.9 565.0L955.5 564.9L957.1 564.9L958.7 564.9L960.3 564.9L961.9 564.9L963.5 564.9L965.1 564.9L966.7 564.9L968.3 564.8L969.9 564.8L971.5 564.8L973.1 564.8L974.7 564.8L976.3 564.8L977.9 564.8L979.5 564.8L981.1 564.7L982.7 564.7L984.3 564.7L985.9 564.7L987.5 564.7L989.1 564.7L990.7 564.7L992.3 564.7L993.9 564.6L995.5 564.6L997.1 564.6L998.7 564.6L1000.3 564.6L1001.9 564.6L1003.5 564.6L1005.1 564.6L1006.7 564.6L1008.3 564.5L1009.9 564.5L1011.5 564.5L1013.1 564.5L1014.7 564.5L1016.3 564.5L1017.9 564.5L1019.5 564.5L1021.1 564.4L1022.7 564.4L1024.3 564.4L1025.9 564.4L1027.5 564.4L1029.1 564.4L1030.7 564.4L1032.3 564.4L1033.9 564.3L1035.5 564.3L1037.1 564.3L1038.7 564.3L1040.3 564.3L1041.9 564.3L1043.5 564.3L1045.1 564.3L1046.7 564.2L1048.3 564.2L1049.9 564.2L1051.5 564.2L1053.1 564.2L1054.7 564.2L1056.3 564.2L1057.9 564.2L1059.5 564.1L1061.1 564.1L1062.7 564.1L1064.3 564.1L1065.9 564.1L1067.5 564.1L1069.1 564.1L1070.7 564.1L1072.3 564.0L1073.9 564.0L1075.5 564.0L1077.1 564.0L1078.7 564.0L1080.3 564.0L1081.9 564.0L1083.5 564.0L1085.1 563.9L1086.7 563.9L1088.3 563.9L1089.9 563.9L1091.5 563.9L1093.1 563.9L1094.7 563.9L1096.3 563.8L1097.9 563.8L1099.5 563.8L1101.1 563.8L1102.7 563.8L1104.3 563.8L1105.9 563.8L1107.5 563.8L1109.1 563.7L1110.7 563.7L1112.3 563.7L1113.9 563.7L1115.5 563.7L1117.1 563.7L1118.7 563.7L1120.3 563.7L1121.9 563.6L1123.5 563.6L1125.1 563.6L1126.7 563.6L1128.3 563.6L1129.9 563.6L1131.5 563.6L1133.1 563.5L1134.7 563.5L1136.3 563.5L1137.9 563.5L1139.5 563.5L1141.1 563.5L1142.7 563.5L1144.3 563.5L1145.9 563.4L1147.5 563.4L1149.1 563.4L1150.7 563.4L1152.3 563.4L1153.9 563.4L1155.5 563.4L1157.1 563.4L1158.7 563.3L1160.3 563.3L1161.9 563.3L1163.5 563.3L1165.1 563.3L1166.7 563.3L1168.3 563.3L1169.9 563.2L1171.5 563.2L1173.1 563.2L1174.7 563.2L1176.3 563.2L1177.9 563.2L1179.5 563.2L1181.1 563.2L1182.7 563.1L1184.3 563.1L1185.9 563.1L1187.5 563.1L1189.1 563.1L1190.7 563.1L1192.3 563.1L1193.9 563.0L1195.5 563.0L1197.1 563.0L1198.7 563.0L1200.3 563.0L1201.9 563.0L1203.5 563.0L1205.1 563.0L1206.7 562.9L1208.3 562.9L1209.9 562.9L1211.5 562.9L1213.1 562.9L1214.7 562.9L1216.3 562.9L1217.9 562.8L1219.5 562.8L1221.1 562.8L1222.7 562.8L1224.3 562.8L1225.9 562.8L1227.5 562.8L1229.1 562.8L1230.7 562.7L1232.3 562.7L1233.9 562.7L1235.5 562.7L1237.1 562.7L1238.7 562.7L1240.3 562.7L1241.9 562.6L1243.5 562.6L1245.1 562.6L1246.7 562.6L1248.3 562.6L1249.9 562.6L1251.5 562.6L1253.1 562.5L1254.7 562.5L1256.3 562.5L1257.9 562.5L1259.5 562.5L1261.1 562.5L1262.7 562.5L1264.3 562.4L1265.9 562.4L1267.5 562.4L1269.1 562.4L1270.7 562.4L1272.3 562.4L1273.9 562.3L1275.5 562.3L1277.1 562.3L1278.7 562.3L1280.3 562.3L1281.9 562.3L1283.5 562.3L1285.1 562.2L1286.7 562.2L1288.3 562.2L1289.9 562.2L1291.5 562.2L1293.1 562.2L1294.7 562.2L1296.3 562.1L1297.9 562.1L1299.5 562.1L1301.1 562.1L1302.7 562.1L1304.3 562.1L1305.9 562.1L1307.5 562.1L1309.1 562.0L1310.7 562.0L1312.3 562.0L1313.9 562.0L1315.5 562.0L1317.1 562.0L1318.7 562.0L1320.3 561.9L1321.9 561.9L1323.5 561.9L1325.1 561.9L1326.7 561.9L1328.3 561.9L1329.9 561.9L1331.5 561.9L1333.1 561.8L1334.7 561.8L1336.3 561.8L1337.9 561.8L1339.5 561.8L1341.1 561.8L1342.7 561.8L1344.3 561.7L1345.9 561.7L1347.5 561.7L1349.1 561.7L1350.7 561.7L1352.3 561.7L1353.9 561.7L1355.5 561.7L1357.1 561.7L1358.7 561.6L1360.3 561.6L1361.9 561.6L1363.5 561.6L1365.1 561.6L1366.7 561.6L1368.3 561.6L1369.9 561.6L1371.5 561.6L1373.1 561.5L1374.7 561.5L1376.3 561.5L1377.9 561.5L1379.5 561.5L1381.1 561.5L1382.7 561.5L1384.3 561.5L1385.9 561.5L1387.5 561.5L1389.1 561.4L1390.7 561.4L1392.3 561.4L1393.9 561.4L1395.5 561.4L1397.1 561.4L1398.7 561.4L1400.3 561.4L1401.9 561.4L1403.5 561.4L1405.1 561.4L1406.7 561.3L1408.3 561.3L1409.9 561.3L1411.5 561.3L1413.1 561.3L1414.7 561.3L1416.3 561.3L1417.9 561.3L1419.5 561.3L1421.1 561.3L1422.7 561.3L1424.3 561.3L1425.9 561.3L1427.5 561.2L1429.1 561.2L1430.7 561.2L1432.3 561.2L1433.9 561.2L1435.5 561.2L1437.1 561.2L1437.5 561.2" stroke="#000" stroke-width="11.0"/>
<path d="M267.5 476.2L269.1 476.1L270.7 476.6L272.3 475.5L273.9 476.0L275.5 476.0L277.0 475.1L278.6 474.7L280.2 474.9L281.8 475.2L283.4 474.9L285.0 474.2L286.6 474.4L288.2 474.6L289.8 474.0L291.4 474.2L293.0 474.5L294.5 473.9L296.1 473.3L297.7 472.9L299.3 472.9L300.9 473.0L302.5 473.3L304.1 473.0L305.7 472.2L307.3 472.9L308.9 472.1L310.5 472.2L312.0 471.2L313.6 471.0L315.2 471.0L316.8 471.8L318.4 471.3L320.0 471.4L321.6 471.0L323.2 470.5L324.8 470.4L326.4 470.4L328.0 470.6L329.5 469.8L331.1 470.3L332.7 469.7L334.3 469.9L335.9 469.2L337.5 469.3L339.1 468.7L340.7 468.8L342.3 468.2L343.9 467.8L345.5 467.6L347.0 468.3L348.6 467.8L350.2 468.3L351.8 468.0L353.4 467.2L355.0 467.9L356.6 467.2L358.2 467.2L359.8 466.6L361.4 466.1L363.0 465.9L364.5 465.7L366.1 466.2L367.7 465.3L369.3 465.0L370.9 466.0L372.5 464.8L374.1 465.1L375.7 465.0L377.3 465.0L378.9 464.6L380.5 465.1L382.0 464.6L383.6 464.2L385.2 464.1L386.8 463.8L388.4 464.3L390.0 463.0L391.6 463.5L393.2 463.2L394.8 462.3L396.4 462.5L398.0 463.2L399.5 462.8L401.1 461.5L402.7 461.8L404.3 461.2L405.9 462.2L407.5 461.0L409.1 460.8L410.7 461.9L412.3 461.0L413.9 460.6L415.5 460.1L417.0 460.4L418.6 460.2L420.2 460.2L421.8 459.3L423.4 459.4L425.0 459.3L426.6 459.4L428.2 459.1L429.8 459.3L431.4 458.7L433.0 459.4L434.5 459.3L436.1 457.9L437.7 457.9L439.3 458.2L440.9 458.3L442.5 457.2L444.1 457.2L445.7 457.4L447.3 457.5L448.9 457.6L450.4 457.4L452.0 457.1L453.6 455.9L455.2 457.0L456.8 456.3L458.4 455.4L460.0 455.5L461.6 455.8L463.2 455.3L464.8 455.3L466.4 457.3L467.8 457.7L468.8 459.2L469.1 460.7L469.2 462.3L469.3 463.9L469.4 465.5L469.5 467.1L469.5 468.7L469.6 470.3L469.7 471.9L469.7 473.5L469.8 475.1L469.9 476.7L469.9 478.3L470.0 479.9L470.1 481.5L470.1 483.1L470.2 484.7L470.3 486.3L470.3 487.9L470.4 489.5L470.5 491.1L470.6 492.7L470.6 494.3L470.7 495.9L470.8 497.5L470.8 499.1L470.9 500.7L471.0 502.3L471.0 503.9L471.1 505.5L471.2 507.1L471.3 508.7L471.3 510.3L471.4 511.9L471.5 513.5L471.5 515.1L471.6 516.7L471.7 518.3L471.8 519.9L471.8 521.5L471.9 523.1L472.0 524.7L472.1 526.3L472.1 527.9L472.2 529.5L472.3 531.1L472.4 532.7L472.4 534.3L472.5 535.9L472.6 537.5L472.7 539.1L472.7 540.7L472.8 542.3L472.9 543.9L473.0 545.5L473.0 547.0L473.1 548.6L473.2 550.2L473.3 551.8L473.4 553.4L473.4 555.0L473.5 556.6L473.6 558.2L473.7 559.8L473.8 561.4L473.9 563.0L474.0 564.6L474.1 566.2L474.2 567.8L474.3 569.4L474.4 571.0L474.5 572.6L474.6 574.2L474.7 575.8L474.8 577.4L474.9 579.0L475.0 580.6L475.1 582.2L475.2 583.8L475.4 585.4L475.5 587.0L475.6 588.6L475.7 590.2L475.9 591.8L476.0 593.4L476.1 595.0L476.3 596.5L476.4 598.1L476.5 599.7L476.7 601.3L476.8 602.9L477.0 604.5L477.1 606.1L477.3 607.7L477.4 609.3L477.6 610.9L477.7 612.5L477.9 614.1L478.1 615.7L478.3 617.2L478.4 618.8L478.6 620.4L478.8 622.0L479.0 623.6L479.2 625.2L479.4 626.8L479.6 628.4L479.8 630.0L480.0 631.5L480.2 633.1L480.4 634.7L480.6 636.3L480.8 637.9L481.0 639.5L481.2 641.1L481.4 642.7L481.6 644.2L481.8 645.8L482.1 647.4L482.3 649.0L482.5 650.6L482.8 652.2L483.0 653.7L483.3 655.3L483.5 656.9L483.8 658.5L484.0 660.1L484.3 661.6L484.5 663.2L484.8 664.8L485.1 666.4L485.4 667.9L485.6 669.5L485.9 671.1L486.2 672.7L486.5 674.2L486.8 675.8L487.1 677.4L487.4 679.0L487.8 680.5L488.1 682.1L488.4 683.7L488.7 685.2L489.1 686.8L489.4 688.3L489.8 689.9L490.1 691.5L490.5 693.0L490.9 694.6L491.2 696.1L491.6 697.7L492.0 699.2L492.4 700.8L492.8 702.3L493.2 703.9L493.6 705.4L494.0 707.0L494.4 708.5L494.8 710.1L495.2 711.6L495.7 713.2L496.1 714.7L496.5 716.2L497.0 717.8L497.4 719.3L497.9 720.9L498.3 722.4L498.8 723.9L499.3 725.5L499.8 727.0L500.2 728.5L500.7 730.0L501.2 731.6L501.7 733.1L502.2 734.6L502.7 736.1L503.1 737.7L503.6 739.2L504.1 740.7L504.6 742.2L505.1 743.8L505.6 745.3L506.1 746.8L506.6 748.3L507.1 749.9L507.6 751.4L508.1 752.9L508.7 754.4L509.2 755.9L509.8 757.4L510.3 758.9L510.9 760.4L511.5 761.8L512.2 763.3L512.8 764.8L513.5 766.2L514.1 767.7L514.8 769.1L515.5 770.6L516.2 772.0L517.0 773.4L517.7 774.8L518.5 776.3L519.2 777.7L520.0 779.1L520.8 780.5L521.6 781.9L522.4 783.3L523.2 784.7L524.0 786.0L524.8 787.4L525.6 788.8L526.5 790.1L527.4 791.5L528.3 792.8L529.2 794.1L530.1 795.4L531.0 796.7L531.9 798.0L532.9 799.3L533.8 800.6L534.8 801.9L535.7 803.2L536.7 804.4L537.7 805.7L538.7 807.0L539.7 808.2L540.7 809.5L541.7 810.7L542.8 811.9L543.8 813.1L544.8 814.3L545.9 815.6L546.9 816.8L548.0 818.0L549.1 819.2L550.1 820.3L551.2 821.5L552.3 822.7L553.4 823.8L554.5 825.0L555.6 826.2L556.8 827.3L557.9 828.4L559.0 829.5L560.2 830.6L561.3 831.7L562.5 832.8L563.6 833.9L564.8 835.0L566.0 836.0L567.1 837.1L568.3 838.1L569.5 839.2L570.7 840.4L572.0 840.5L573.2 841.8L574.4 842.6L575.6 844.8L576.9 844.9L578.1 845.8L579.4 847.3L580.6 847.8L581.9 849.2L583.1 850.7L584.4 851.6L585.7 851.7L587.0 853.5L588.2 853.7L589.5 854.8L590.8 855.5L592.1 857.3L593.5 857.2L594.8 858.7L596.1 859.4L597.4 860.4L598.8 860.4L600.1 861.9L601.5 863.4L602.8 863.6L604.2 864.0L605.5 864.6L606.9 865.8L608.3 867.2L609.7 867.0L611.0 867.9L612.4 869.5L613.8 870.6L615.2 870.8L616.6 871.9L618.0 872.1L619.4 872.9L620.8 874.0L622.2 874.4L623.6 875.5L625.0 875.8L626.5 877.6L627.9 877.9L629.3 877.9L630.8 878.7L632.2 880.2L633.7 880.2L635.1 880.7L636.6 881.0L638.1 882.5L639.6 883.0L641.1 883.9L642.6 883.6L644.1 885.0L645.6 885.7L647.1 886.2L648.5 886.7L650.0 886.9L651.5 886.9L653.0 888.3L654.5 888.0L656.0 888.7L657.5 889.7L659.0 889.9L660.5 890.9L662.0 892.0L663.5 891.6L665.0 893.0L666.5 893.8L668.0 893.0L669.6 894.0L671.1 894.9L672.6 895.5L674.1 895.3L675.6 896.6L677.2 896.4L678.7 896.6L680.2 897.5L681.8 898.1L683.3 898.8L684.9 899.0L686.4 898.5L688.0 899.6L689.5 899.7L691.1 900.5L692.6 900.0L694.2 901.2L695.8 901.8L697.3 901.1L698.9 901.5L700.4 903.1L702.0 903.5L703.5 903.0L705.0 904.5L706.6 904.2L708.1 904.8L709.6 905.2L711.2 905.5L712.7 906.7L714.2 906.8L715.8 907.7L717.3 907.7L718.8 908.5L720.4 908.4L721.9 908.7L723.5 909.3L725.0 908.9L726.6 910.4L728.1 910.0L729.7 911.5L731.2 910.6L732.8 912.0L734.3 912.4L735.9 912.5L737.4 912.3L739.0 913.6L740.5 913.3L742.1 913.6L743.7 914.5L745.2 915.2L746.8 914.3L748.4 915.1L749.9 915.8L751.5 915.5L753.1 916.8L754.6 916.6L756.2 916.2L757.8 916.6L759.4 916.8L760.9 917.6L762.5 918.5L764.1 917.6L765.7 917.9L767.2 918.3L768.8 919.1L770.4 919.1L772.0 919.3L773.6 919.2L775.1 920.4L776.7 920.2L778.3 921.0L779.9 920.0L781.5 920.9L783.0 921.0L784.6 921.9L786.2 921.9L787.8 921.9L789.4 921.7L791.0 922.6L792.5 923.2L794.1 923.2L795.7 923.7L797.3 923.4L798.9 923.2L800.5 923.3L802.0 924.3L803.6 924.6L805.2 924.5L806.8 925.0L808.4 924.7L810.0 925.5L811.6 925.4L813.2 925.0L814.7 925.7L816.3 926.0L817.9 925.5L819.5 926.7L821.1 926.6L822.7 925.9L824.3 926.1L825.9 925.9L827.5 927.4L829.1 926.4L830.7 927.5L832.3 927.1L833.9 926.6L835.5 926.9L837.1 927.1L838.7 927.9L840.3 927.5L841.9 927.3L843.5 928.5L845.1 928.0L846.7 927.4L848.3 928.8L849.8 928.5L851.4 928.3L853.0 928.0L854.6 928.9L856.2 928.3L857.9 929.7L859.4 929.8L860.8 930.3L862.1 931.7L863.4 932.7L864.7 933.8L865.9 935.1L867.1 936.4L868.3 937.5L869.5 937.9L870.9 937.5L872.4 936.4L873.5 935.3L874.5 934.1L875.3 932.7L876.0 931.2L876.6 929.6L877.1 928.1L877.6 926.6L878.0 925.1L878.4 923.5L878.8 922.0L879.1 920.4L879.4 918.8L879.7 917.2L880.0 915.7L880.3 914.1L880.5 912.5L880.8 910.9L881.0 909.3L881.2 907.7L881.4 906.2L881.6 904.6L881.8 903.0L882.0 901.4L882.2 899.8L882.4 898.2L882.6 896.6L882.8 895.0L882.9 893.5L883.1 891.9L883.3 890.3L883.5 888.7L883.7 887.1L883.9 885.5L884.0 883.9L884.2 882.3L884.3 880.7L884.5 879.1L884.6 877.5L884.7 875.9L884.8 874.3L884.9 872.8L885.0 871.2L885.1 869.6L885.2 868.0L885.2 866.4L885.3 864.8L885.4 863.2L885.5 861.6L885.5 860.0L885.6 858.4L885.7 856.8L885.8 855.2L885.8 853.6L885.9 852.0L886.0 850.4L886.1 848.8L886.1 847.2L886.2 845.6L886.3 844.0L886.4 842.4L886.5 840.8L886.6 839.1L886.7 837.5L886.8 835.9L886.9 834.3L887.0 832.7L887.1 831.1L887.2 829.5L887.3 827.9L887.4 826.3L887.5 824.7L887.6 823.1L887.7 821.5L887.8 819.9L887.9 818.3L888.0 816.7L888.2 815.1L888.3 813.5L888.4 811.9L888.5 810.3L888.6 808.7L888.7 807.1L888.8 805.5L888.9 803.9L889.0 802.3L889.2 800.7L889.3 799.0L889.4 797.4L889.5 796.5L889.6 793.8L889.8 792.3L889.9 791.3L890.0 790.1L890.1 787.3L890.2 786.1L890.4 785.1L890.5 782.4L890.6 781.1L890.7 780.0L890.9 778.7L891.0 776.0L891.1 774.9L891.2 773.5L891.4 771.8L891.5 770.2L891.7 769.3L891.8 767.6L891.9 765.0L892.1 763.4L892.2 762.0L892.4 760.0L892.5 758.5L892.6 757.4L892.8 756.4L892.9 753.8L893.1 752.1L893.2 751.1L893.4 749.0L893.6 747.0L893.7 745.5L893.9 745.0L894.0 742.4L894.2 741.5L894.4 739.6L894.5 738.5L894.7 736.5L894.9 734.5L895.1 732.9L895.2 731.3L895.4 729.7L895.6 728.1L895.8 726.6L896.0 725.4L896.2 723.7L896.4 721.5L896.6 720.4L896.8 719.5L897.0 717.9L897.2 715.4L897.4 713.6L897.6 712.2L897.8 710.4L898.1 708.9L898.3 708.3L898.5 706.6L898.8 704.4L899.1 702.9L899.3 701.6L899.6 700.0L899.9 698.4L900.1 696.8L900.4 695.0L900.7 692.8L901.0 692.0L901.3 690.3L901.6 688.0L901.9 686.5L902.2 685.5L902.6 683.6L902.9 682.6L903.3 680.3L903.6 679.2L904.0 677.6L904.4 675.3L904.8 673.9L905.2 672.5L905.6 670.8L906.1 669.0L906.5 667.6L906.9 666.4L907.4 664.4L907.8 663.4L908.3 661.6L908.8 660.1L909.2 658.2L909.7 657.4L910.2 654.9L910.7 654.5L911.2 652.5L911.7 651.4L912.3 649.3L912.8 647.5L913.3 646.1L913.9 645.3L914.4 643.3L915.0 641.6L915.6 639.8L916.2 638.3L916.8 637.2L917.4 635.7L918.0 634.7L918.6 632.3L919.2 631.3L919.8 629.4L920.5 628.1L921.2 627.0L921.8 626.0L922.5 623.6L923.2 622.2L924.0 621.5L924.7 619.9L925.5 617.8L926.3 617.3L927.0 616.3L927.8 614.6L928.7 613.5L929.5 611.8L930.3 609.8L931.1 609.1L932.0 607.4L932.8 605.4L933.7 604.4L934.5 603.9L935.4 602.2L936.3 600.4L937.2 599.6L938.1 598.2L939.0 596.2L940.0 595.3L940.9 594.5L941.9 592.3L942.8 591.6L943.8 589.7L944.8 588.7L945.8 588.1L946.8 586.3L947.8 585.7L948.9 584.4L949.9 583.1L951.0 581.2L952.1 580.5L953.2 579.9L954.4 578.4L955.5 576.5L956.7 576.0L957.8 574.9L959.0 573.8L960.2 572.6L961.4 572.2L962.6 570.7L963.9 570.2L965.1 569.3L966.3 568.2L967.6 567.0L968.9 565.0L970.2 564.1L971.5 563.4L972.8 562.9L974.1 561.7L975.4 560.6L976.8 560.8L978.1 559.3L979.5 558.1L980.9 557.8L982.3 557.6L983.7 556.5L985.1 556.0L986.5 554.1L987.9 554.2L989.3 552.9L990.7 552.1L992.1 551.5L993.5 550.8L995.0 550.6L996.4 549.2L997.8 548.7L999.3 547.9L1000.7 547.5L1002.2 546.7L1003.6 545.3L1005.1 545.8L1006.5 544.8L1008.0 543.4L1009.4 543.3L1010.9 543.2L1012.3 542.5L1013.8 541.2L1015.3 540.3L1016.7 540.6L1018.2 539.7L1019.7 539.0L1021.1 538.0L1022.6 537.9L1024.0 536.3L1025.5 536.6L1026.9 535.9L1028.4 534.8L1029.9 533.9L1031.3 533.7L1032.8 532.6L1034.2 531.9L1035.7 531.1L1037.1 531.1L1038.6 529.6L1040.0 529.4L1041.5 528.8L1043.0 528.9L1044.5 527.1L1046.0 527.2L1047.5 526.1L1049.0 526.6L1050.5 524.9L1052.0 525.5L1053.5 524.6L1055.0 523.4L1056.5 523.2L1058.1 522.5L1059.6 522.3L1061.1 522.3L1062.6 521.3L1064.1 521.5L1065.7 520.9L1067.2 519.5L1068.7 518.9L1070.3 519.2L1071.8 518.3L1073.3 517.7L1074.9 518.2L1076.4 517.2L1077.9 516.3L1079.5 516.3L1081.0 515.9L1082.6 515.8L1084.1 514.8L1085.6 514.5L1087.2 513.6L1088.7 514.2L1090.3 513.9L1091.8 512.3L1093.4 512.9L1094.9 512.8L1096.5 512.3L1098.1 511.9L1099.6 510.7L1101.2 511.4L1102.7 510.2L1104.3 510.5L1105.9 510.0L1107.4 509.4L1109.0 509.5L1110.5 509.2L1112.1 508.1L1113.7 507.8L1115.2 508.1L1116.8 507.1L1118.3 507.3L1119.9 506.1L1121.5 505.8L1123.0 505.6L1124.6 505.2L1126.2 505.1L1127.7 504.4L1129.3 504.0L1130.9 504.0L1132.4 503.4L1134.0 503.4L1135.6 503.1L1137.2 503.6L1138.7 502.6L1140.3 502.6L1141.9 502.7L1143.5 501.8L1145.0 501.3L1146.6 501.4L1148.2 501.5L1149.8 500.4L1151.3 500.8L1152.9 500.1L1154.5 499.9L1156.1 499.8L1157.6 499.3L1159.2 498.6L1160.8 498.4L1162.4 497.8L1163.9 498.7L1165.5 498.1L1167.1 498.2L1168.6 497.0L1170.2 497.1L1171.8 496.8L1173.4 495.9L1174.9 496.2L1176.5 496.0L1178.1 495.5L1179.7 495.1L1181.2 494.7L1182.8 494.2L1184.4 494.6L1186.0 493.8L1187.5 493.3L1189.1 494.3L1190.7 493.9L1192.3 492.9L1193.9 492.8L1195.4 492.2L1197.0 493.1L1198.6 491.9L1200.2 492.4L1201.8 492.1L1203.4 490.8L1204.9 490.7L1206.5 491.0L1208.1 490.2L1209.7 491.3L1211.3 491.2L1212.9 490.5L1214.5 489.9L1216.1 489.5L1217.7 489.3L1219.2 489.7L1220.8 488.9L1222.4 488.8L1224.0 489.3L1225.6 489.4L1227.2 488.9L1228.8 489.1L1230.4 488.7L1232.0 488.0L1233.6 487.7L1235.1 487.3L1236.7 488.0L1238.3 487.4L1239.9 487.7L1241.5 487.0L1243.1 487.3L1244.7 486.9L1246.3 486.5L1247.8 486.5L1249.4 486.3L1251.0 485.1L1252.6 486.0L1254.2 484.8L1255.8 485.2L1257.4 484.9L1259.0 485.1L1260.5 484.1L1262.1 484.6L1263.7 484.5L1265.3 483.7L1266.9 483.8L1268.5 483.4L1270.1 483.6L1271.6 483.6L1273.2 482.9L1274.8 482.0L1276.4 483.0L1278.0 482.4L1279.6 481.6L1281.2 482.1L1282.8 481.6L1284.3 481.0L1285.9 481.0L1287.5 481.2L1289.1 480.6L1290.7 480.1L1292.3 479.8L1293.9 480.0L1295.4 480.3L1297.0 479.6L1298.6 479.5L1300.2 479.8L1301.8 479.4L1303.4 479.7L1305.0 479.2L1306.6 479.2L1308.1 478.4L1309.7 478.6L1311.3 478.7L1312.9 477.1L1314.5 477.5L1316.1 477.7L1317.7 476.8L1319.3 476.4L1320.8 476.8L1322.4 476.0L1324.0 475.9L1325.6 475.5L1327.2 476.3L1328.8 475.1L1330.4 476.1L1332.0 475.4L1333.5 475.0L1335.1 474.5L1336.7 474.6L1338.3 474.2L1339.9 474.9L1341.5 474.2L1343.1 473.3L1344.7 474.4L1346.2 474.2L1347.8 474.1L1349.4 472.9L1351.0 473.0L1352.6 473.1L1354.2 472.1L1355.8 472.3L1357.4 472.0L1359.0 472.6L1360.5 471.2L1362.1 472.3L1363.7 470.8L1365.3 471.9L1366.9 471.1L1368.5 470.5L1370.1 470.5L1371.7 471.2L1373.3 470.0L1374.9 470.7L1376.4 470.7L1378.0 469.7L1379.6 469.9L1381.2 469.7L1382.8 470.1L1384.4 468.9L1386.0 469.0L1387.6 469.2L1389.2 468.4L1390.8 468.4L1392.4 468.9L1394.0 468.6L1395.6 468.3L1397.1 468.6L1398.7 467.6L1400.3 468.4L1401.9 467.4L1403.5 468.1L1405.1 467.7L1406.7 467.5L1408.3 467.2L1409.9 467.3L1411.5 466.5L1413.1 467.0L1414.7 466.0L1416.3 466.6L1417.9 466.9L1419.5 466.8L1421.1 465.6L1422.6 466.4L1424.2 465.9L1425.8 465.5L1427.4 465.3L1429.0 465.3L1430.6 465.1L1432.2 465.7L1433.8 465.3L1435.4 464.4L1436.6 465.1" stroke="#C800AE" stroke-width="9.3"/>
<path d="M267.5 480.4L269.1 480.8L270.7 479.6L272.3 480.1L273.9 479.6L275.5 479.0L277.0 478.7L278.6 479.6L280.2 478.2L281.8 478.4L283.4 478.5L285.0 478.1L286.6 478.3L288.2 477.6L289.8 478.2L291.4 477.8L293.0 477.7L294.5 478.0L296.1 476.7L297.7 476.9L299.3 476.3L300.9 476.4L302.5 476.5L304.1 476.7L305.7 475.7L307.3 476.4L308.9 476.1L310.5 475.6L312.0 476.0L313.6 475.2L315.2 475.8L316.8 475.6L318.4 474.7L320.0 475.3L321.6 474.8L323.2 474.3L324.8 474.3L326.4 474.4L328.0 474.4L329.5 474.2L331.1 474.1L332.7 473.1L334.3 472.4L335.9 472.4L337.5 472.6L339.1 472.0L340.7 472.5L342.3 471.7L343.9 471.8L345.5 471.7L347.0 472.3L348.6 471.6L350.2 470.9L351.8 471.6L353.4 471.7L355.0 471.2L356.6 470.0L358.2 471.1L359.8 470.0L361.4 470.7L363.0 470.5L364.5 470.1L366.1 469.1L367.7 469.4L369.3 468.8L370.9 469.6L372.5 468.4L374.1 468.8L375.7 469.0L377.3 469.0L378.9 468.2L380.5 467.6L382.0 468.5L383.6 467.5L385.2 467.6L386.8 466.8L388.4 467.0L390.0 467.7L391.6 467.3L393.2 467.1L394.8 466.7L396.4 465.9L398.0 465.9L399.5 466.7L401.1 465.4L402.7 466.0L404.3 465.4L405.9 465.7L407.5 464.7L409.1 464.5L410.7 465.0L412.3 464.4L413.9 465.0L415.5 465.1L417.0 463.7L418.6 463.7L420.2 463.4L421.8 463.6L423.4 463.2L425.0 463.5L426.6 463.0L428.2 463.1L429.8 463.4L431.4 463.2L433.0 462.1L434.5 462.0L436.1 462.3L437.7 462.0L439.3 461.2L440.9 462.0L442.5 461.9L444.1 461.2L445.7 460.6L447.3 461.2L448.9 460.1L450.4 460.0L452.0 460.5L453.6 460.1L455.2 460.7L456.8 459.5L458.4 459.3L460.0 459.3L461.6 459.8L463.2 459.4L464.8 458.4L466.4 457.3L467.8 457.7L468.8 459.2L469.1 460.7L469.2 462.3L469.3 463.9L469.4 465.5L469.5 467.1L469.5 468.7L469.6 470.3L469.7 471.9L469.7 473.5L469.8 475.1L469.9 476.7L469.9 478.3L470.0 479.9L470.1 481.5L470.1 483.1L470.2 484.7L470.3 486.3L470.3 487.9L470.4 489.5L470.5 491.1L470.6 492.7L470.6 494.3L470.7 495.9L470.8 497.5L470.8 499.1L470.9 500.7L471.0 502.3L471.0 503.9L471.1 505.5L471.2 507.1L471.3 508.7L471.3 510.3L471.4 511.9L471.5 513.5L471.5 515.1L471.6 516.7L471.7 518.3L471.8 519.9L471.8 521.5L471.9 523.1L472.0 524.7L472.1 526.3L472.1 527.9L472.2 529.5L472.3 531.1L472.4 532.7L472.4 534.3L472.5 535.9L472.6 537.5L472.7 539.1L472.7 540.7L472.8 542.3L472.9 543.9L473.0 545.5L473.0 547.0L473.1 548.6L473.2 550.2L473.3 551.8L473.4 553.4L473.4 555.0L473.5 556.6L473.6 558.2L473.7 559.8L473.8 561.4L473.9 563.0L474.0 564.6L474.1 566.2L474.2 567.8L474.3 569.4L474.4 571.0L474.5 572.6L474.6 574.2L474.7 575.8L474.8 577.4L474.9 579.0L475.0 580.6L475.1 582.2L475.2 583.8L475.4 585.4L475.5 587.0L475.6 588.6L475.7 590.2L475.9 591.8L476.0 593.4L476.1 595.0L476.3 596.5L476.4 598.1L476.5 599.7L476.7 601.3L476.8 602.9L477.0 604.5L477.1 606.1L477.3 607.7L477.4 609.3L477.6 610.9L477.7 612.5L477.9 614.1L478.1 615.7L478.3 617.2L478.4 618.8L478.6 620.4L478.8 622.0L479.0 623.6L479.2 625.2L479.4 626.8L479.6 628.4L479.8 630.0L480.0 631.5L480.2 633.1L480.4 634.7L480.6 636.3L480.8 637.9L481.0 639.5L481.2 641.1L481.4 642.7L481.6 644.2L481.8 645.8L482.1 647.4L482.3 649.0L482.5 650.6L482.8 652.2L483.0 653.7L483.3 655.3L483.5 656.9L483.8 658.5L484.0 660.1L484.3 661.6L484.5 663.2L484.8 664.8L485.1 666.4L485.4 667.9L485.6 669.5L485.9 671.1L486.2 672.7L486.5 674.2L486.8 675.8L487.1 677.4L487.4 679.0L487.8 680.5L488.1 682.1L488.4 683.7L488.7 685.2L489.1 686.8L489.4 688.3L489.8 689.9L490.1 691.5L490.5 693.0L490.9 694.6L491.2 696.1L491.6 697.7L492.0 699.2L492.4 700.8L492.8 702.3L493.2 703.9L493.6 705.4L494.0 707.0L494.4 708.5L494.8 710.1L495.2 711.6L495.7 713.2L496.1 714.7L496.5 716.2L497.0 717.8L497.4 719.3L497.9 720.9L498.3 722.4L498.8 723.9L499.3 725.5L499.8 727.0L500.2 728.5L500.7 730.0L501.2 731.6L501.7 733.1L502.2 734.6L502.7 736.1L503.1 737.7L503.6 739.2L504.1 740.7L504.6 742.2L505.1 743.8L505.6 745.3L506.1 746.8L506.6 748.3L507.1 749.9L507.6 751.4L508.1 752.9L508.7 754.4L509.2 755.9L509.8 757.4L510.3 758.9L510.9 760.4L511.5 761.8L512.2 763.3L512.8 764.8L513.5 766.2L514.1 767.7L514.8 769.1L515.5 770.6L516.2 772.0L517.0 773.4L517.7 774.8L518.5 776.3L519.2 777.7L520.0 779.1L520.8 780.5L521.6 781.9L522.4 783.3L523.2 784.7L524.0 786.0L524.8 787.4L525.6 788.8L526.5 790.1L527.4 791.5L528.3 792.8L529.2 794.1L530.1 795.4L531.0 796.7L531.9 798.0L532.9 799.3L533.8 800.6L534.8 801.9L535.7 803.2L536.7 804.4L537.7 805.7L538.7 807.0L539.7 808.2L540.7 809.5L541.7 810.7L542.8 811.9L543.8 813.1L544.8 814.3L545.9 815.6L546.9 816.8L548.0 818.0L549.1 819.2L550.1 820.3L551.2 821.5L552.3 822.7L553.4 823.8L554.5 825.0L555.6 826.2L556.8 827.3L557.9 828.5L559.0 829.6L560.2 830.8L561.3 831.9L562.5 833.0L563.6 834.1L564.8 835.3L566.0 836.4L567.1 837.5L568.3 838.5L569.5 839.6L570.7 840.8L572.0 841.8L573.2 843.1L574.4 843.9L575.6 844.4L576.9 845.4L578.1 847.4L579.4 847.7L580.6 848.5L581.9 849.7L583.1 850.5L584.4 852.4L585.7 852.6L587.0 854.1L588.2 854.9L589.5 856.0L590.8 857.5L592.1 857.8L593.5 858.3L594.8 860.0L596.1 860.3L597.4 861.2L598.8 862.9L600.1 863.0L601.5 863.9L602.8 865.0L604.2 866.3L605.5 867.1L606.9 867.4L608.3 867.7L609.7 868.5L611.0 869.5L612.4 871.5L613.8 871.5L615.2 872.4L616.6 873.5L618.0 874.0L619.4 874.3L620.8 875.8L622.2 875.9L623.6 876.8L625.0 877.1L626.5 878.7L627.9 879.7L629.3 879.7L630.8 880.0L632.2 881.1L633.7 881.4L635.1 882.1L636.6 883.4L638.1 883.9L639.6 884.5L641.1 884.9L642.6 885.7L644.1 886.1L645.6 886.5L647.1 886.7L648.5 888.4L650.0 888.3L651.5 889.5L653.0 890.1L654.5 890.0L656.0 891.0L657.5 891.4L659.0 892.3L660.5 893.1L662.0 892.3L663.5 894.0L665.0 893.7L666.5 894.2L668.0 895.4L669.6 895.3L671.1 896.1L672.6 896.1L674.1 896.5L675.6 897.6L677.2 897.6L678.7 899.1L680.2 898.3L681.8 898.9L683.3 900.5L684.9 899.9L686.4 900.8L688.0 900.4L689.5 901.7L691.1 901.8L692.6 902.6L694.2 902.8L695.8 903.1L697.3 903.2L698.9 903.7L700.4 904.4L702.0 904.3L703.5 905.2L705.0 904.8L706.6 906.3L708.1 906.4L709.6 906.2L711.2 906.8L712.7 907.4L714.2 907.5L715.8 908.5L717.3 909.0L718.8 909.5L720.4 909.7L721.9 909.9L723.5 911.0L725.0 911.0L726.6 910.8L728.1 912.3L729.7 911.7L731.2 912.9L732.8 913.2L734.3 914.1L735.9 914.5L737.4 914.1L739.0 914.8L740.5 914.5L742.1 915.4L743.7 915.5L745.2 916.0L746.8 916.2L748.4 917.3L749.9 917.1L751.5 917.8L753.1 917.6L754.6 917.7L756.2 918.9L757.8 918.3L759.4 918.2L760.9 918.7L762.5 919.7L764.1 919.6L765.7 920.3L767.2 920.5L768.8 921.0L770.4 920.2L772.0 921.5L773.6 920.8L775.1 921.4L776.7 922.3L778.3 921.7L779.9 922.3L781.5 922.2L783.0 922.1L784.6 922.9L786.2 922.5L787.8 922.8L789.4 923.6L791.0 923.6L792.5 924.6L794.1 924.3L795.7 924.3L797.3 924.4L798.9 925.5L800.5 925.6L802.0 925.5L803.6 925.1L805.2 925.9L806.8 925.4L808.4 925.7L810.0 926.3L811.6 926.1L813.2 926.3L814.7 927.1L816.3 927.7L817.9 927.0L819.5 928.0L821.1 927.2L822.7 927.8L824.3 927.8L825.9 928.5L827.5 928.3L829.1 928.5L830.7 927.9L832.3 928.2L833.9 928.4L835.5 929.1L837.1 929.4L838.7 929.6L840.3 929.6L841.9 929.7L843.5 929.8L845.1 929.6L846.7 928.9L848.3 929.1L849.8 929.1L851.4 930.1L853.0 930.2L854.6 929.7L856.2 930.0L857.9 930.1L859.4 931.5L860.8 931.9L862.1 931.7L863.4 932.7L864.7 933.8L865.9 935.1L867.1 936.4L868.3 937.5L869.5 937.9L870.9 937.5L872.4 936.4L873.5 935.3L874.5 934.1L875.3 932.7L876.0 931.2L876.6 929.6L877.1 928.1L877.6 926.6L878.0 925.1L878.4 923.5L878.8 922.0L879.1 920.4L879.4 918.8L879.7 917.2L880.0 915.7L880.3 914.1L880.5 912.5L880.8 910.9L881.0 909.3L881.2 907.7L881.4 906.2L881.6 904.6L881.8 903.0L882.0 901.4L882.2 899.8L882.4 898.2L882.6 896.6L882.8 895.0L882.9 893.5L883.1 891.9L883.3 890.3L883.5 888.7L883.7 887.1L883.9 885.5L884.0 883.9L884.2 882.3L884.3 880.7L884.5 879.1L884.6 877.5L884.7 875.9L884.8 874.3L884.9 872.8L885.0 871.2L885.1 869.6L885.2 868.0L885.2 866.4L885.3 864.8L885.4 863.2L885.5 861.6L885.5 860.0L885.6 858.4L885.7 856.8L885.8 855.2L885.8 853.6L885.9 852.0L886.0 850.4L886.1 848.8L886.1 847.2L886.2 845.6L886.3 844.0L886.4 842.4L886.5 840.8L886.6 839.2L886.7 837.6L886.8 836.1L886.9 834.5L887.0 832.9L887.1 831.3L887.2 829.7L887.3 828.1L887.4 826.5L887.5 824.9L887.6 823.3L887.7 821.7L887.8 820.2L887.9 818.6L888.0 817.0L888.2 815.4L888.3 813.8L888.4 812.2L888.5 810.6L888.6 809.0L888.7 807.5L888.8 805.9L888.9 804.3L889.0 802.7L889.2 801.1L889.3 799.5L889.4 797.9L889.5 796.2L889.6 794.2L889.8 793.5L889.9 792.1L890.0 789.6L890.1 788.4L890.2 787.3L890.4 784.9L890.5 783.4L890.6 781.8L890.7 780.0L890.9 779.4L891.0 777.5L891.1 775.9L891.2 774.5L891.4 773.1L891.5 771.0L891.7 770.0L891.8 767.1L891.9 765.8L892.1 764.2L892.2 763.2L892.4 761.8L892.5 760.3L892.6 759.0L892.8 757.3L892.9 755.1L893.1 753.5L893.2 752.0L893.4 749.7L893.6 748.8L893.7 747.5L893.9 745.0L894.0 743.8L894.2 742.0L894.4 740.3L894.5 739.1L894.7 737.7L894.9 735.6L895.1 734.8L895.2 733.2L895.4 732.1L895.6 730.1L895.8 727.6L896.0 726.2L896.2 725.7L896.4 723.1L896.6 721.6L896.8 720.3L897.0 719.2L897.2 717.2L897.4 715.0L897.6 713.9L897.8 713.2L898.1 710.6L898.3 709.7L898.5 707.6L898.8 705.7L899.1 704.5L899.3 703.1L899.6 702.1L899.9 699.6L900.1 699.0L900.4 696.4L900.7 695.1L901.0 693.7L901.3 692.9L901.6 690.6L901.9 689.0L902.2 687.0L902.6 685.7L902.9 684.8L903.3 683.3L903.6 681.4L904.0 680.6L904.4 677.8L904.8 677.1L905.2 675.2L905.6 673.9L906.1 672.1L906.5 670.4L906.9 668.9L907.4 667.3L907.8 666.5L908.3 665.5L908.8 662.9L909.2 662.4L909.7 660.6L910.2 658.6L910.7 656.9L911.2 655.5L911.7 655.1L912.3 653.1L912.8 652.1L913.3 649.6L913.9 647.9L914.4 647.0L915.0 644.9L915.6 643.9L916.2 642.5L916.8 641.6L917.4 639.8L918.0 637.3L918.6 635.9L919.2 634.4L919.8 633.6L920.5 632.2L921.2 630.7L921.8 629.7L922.5 627.4L923.2 626.4L924.0 625.4L924.7 623.8L925.5 621.9L926.3 620.1L927.0 618.7L927.8 618.6L928.7 616.0L929.5 614.5L930.3 614.2L931.1 612.5L932.0 611.0L932.8 609.9L933.7 608.0L934.5 606.8L935.4 605.3L936.3 603.8L937.2 603.3L938.1 601.5L939.0 600.2L940.0 599.2L940.9 598.0L941.9 596.9L942.8 595.5L943.8 593.6L944.8 592.1L945.8 591.6L946.8 589.8L947.8 588.8L948.9 588.3L949.9 586.0L951.0 585.2L952.1 583.8L953.2 583.1L954.4 582.0L955.5 580.5L956.7 580.3L957.8 578.7L959.0 577.0L960.2 576.9L961.4 575.6L962.6 574.2L963.9 573.7L965.1 572.7L966.3 571.1L967.6 570.9L968.9 569.6L970.2 567.8L971.5 567.1L972.8 565.9L974.1 565.9L975.4 564.3L976.8 563.9L978.1 563.1L979.5 561.6L980.9 562.1L982.3 561.2L983.7 560.5L985.1 558.9L986.5 558.0L987.9 557.0L989.3 557.5L990.7 556.4L992.1 554.8L993.5 553.9L995.0 554.3L996.4 552.8L997.8 552.3L999.3 552.1L1000.7 551.5L1002.2 550.4L1003.6 550.2L1005.1 548.9L1006.5 548.2L1008.0 547.8L1009.4 547.0L1010.9 546.0L1012.3 546.0L1013.8 545.3L1015.3 543.9L1016.7 543.8L1018.2 543.1L1019.7 542.5L1021.1 541.9L1022.6 541.4L1024.0 540.4L1025.5 539.8L1026.9 539.7L1028.4 537.8L1029.9 538.1L1031.3 536.5L1032.8 535.8L1034.2 536.3L1035.7 534.5L1037.1 533.8L1038.6 534.2L1040.0 532.9L1041.5 532.5L1043.0 532.1L1044.5 531.4L1046.0 531.1L1047.5 530.1L1049.0 530.1L1050.5 528.9L1052.0 528.1L1053.5 528.5L1055.0 528.2L1056.5 527.5L1058.1 525.9L1059.6 526.0L1061.1 525.7L1062.6 525.1L1064.1 525.0L1065.7 524.7L1067.2 523.8L1068.7 523.6L1070.3 522.4L1071.8 522.2L1073.3 522.3L1074.9 520.9L1076.4 520.9L1077.9 520.5L1079.5 519.7L1081.0 519.8L1082.6 519.4L1084.1 518.8L1085.6 517.8L1087.2 517.5L1088.7 517.5L1090.3 516.7L1091.8 516.9L1093.4 516.6L1094.9 515.3L1096.5 515.7L1098.1 515.4L1099.6 515.0L1101.2 514.8L1102.7 514.3L1104.3 513.2L1105.9 513.0L1107.4 513.2L1109.0 513.0L1110.5 511.9L1112.1 511.8L1113.7 511.0L1115.2 511.5L1116.8 511.3L1118.3 509.9L1119.9 510.6L1121.5 509.5L1123.0 509.3L1124.6 509.0L1126.2 509.4L1127.7 508.3L1129.3 508.6L1130.9 508.6L1132.4 507.8L1134.0 507.5L1135.6 507.2L1137.2 506.8L1138.7 505.7L1140.3 506.0L1141.9 505.6L1143.5 505.1L1145.0 505.6L1146.6 504.6L1148.2 504.3L1149.8 503.9L1151.3 503.9L1152.9 503.8L1154.5 504.2L1156.1 502.7L1157.6 503.4L1159.2 502.3L1160.8 502.9L1162.4 502.0L1163.9 502.0L1165.5 501.8L1167.1 501.7L1168.6 501.5L1170.2 500.8L1171.8 500.5L1173.4 499.9L1174.9 499.7L1176.5 500.1L1178.1 499.0L1179.7 499.2L1181.2 498.5L1182.8 498.9L1184.4 498.0L1186.0 497.5L1187.5 497.5L1189.1 497.4L1190.7 496.6L1192.3 496.2L1193.9 496.3L1195.4 495.7L1197.0 496.5L1198.6 495.6L1200.2 495.9L1201.8 495.9L1203.4 495.3L1204.9 495.5L1206.5 494.8L1208.1 494.0L1209.7 494.4L1211.3 494.0L1212.9 493.8L1214.5 493.8L1216.1 494.2L1217.7 493.9L1219.2 493.7L1220.8 492.7L1222.4 493.2L1224.0 493.1L1225.6 492.2L1227.2 493.0L1228.8 492.0L1230.4 492.5L1232.0 491.8L1233.6 491.6L1235.1 491.7L1236.7 491.6L1238.3 490.7L1239.9 491.1L1241.5 490.1L1243.1 490.1L1244.7 490.1L1246.3 489.4L1247.8 490.3L1249.4 489.7L1251.0 489.0L1252.6 489.4L1254.2 488.7L1255.8 488.4L1257.4 488.4L1259.0 488.1L1260.5 487.8L1262.1 488.6L1263.7 487.2L1265.3 487.6L1266.9 487.4L1268.5 487.2L1270.1 487.6L1271.6 486.1L1273.2 487.0L1274.8 485.7L1276.4 485.6L1278.0 485.8L1279.6 485.8L1281.2 485.6L1282.8 485.0L1284.3 485.8L1285.9 485.4L1287.5 484.8L1289.1 485.1L1290.7 484.0L1292.3 484.6L1293.9 483.8L1295.4 483.0L1297.0 484.1L1298.6 482.9L1300.2 482.5L1301.8 482.5L1303.4 483.0L1305.0 482.8L1306.6 482.8L1308.1 481.7L1309.7 481.5L1311.3 482.3L1312.9 481.1L1314.5 480.7L1316.1 481.5L1317.7 480.4L1319.3 480.9L1320.8 480.2L1322.4 480.5L1324.0 479.9L1325.6 480.3L1327.2 479.3L1328.8 478.8L1330.4 479.0L1332.0 478.4L1333.5 478.5L1335.1 478.3L1336.7 478.1L1338.3 477.8L1339.9 477.8L1341.5 478.1L1343.1 477.1L1344.7 477.9L1346.2 476.7L1347.8 477.5L1349.4 477.2L1351.0 476.7L1352.6 476.4L1354.2 475.7L1355.8 476.7L1357.4 476.1L1359.0 475.4L1360.5 475.1L1362.1 476.0L1363.7 475.4L1365.3 475.5L1366.9 475.2L1368.5 474.0L1370.1 475.0L1371.7 474.6L1373.3 474.1L1374.9 474.0L1376.4 473.8L1378.0 474.2L1379.6 473.2L1381.2 472.7L1382.8 472.7L1384.4 473.3L1386.0 472.7L1387.6 472.6L1389.2 473.2L1390.8 472.4L1392.4 471.6L1394.0 471.9L1395.6 471.9L1397.1 472.5L1398.7 471.1L1400.3 471.8L1401.9 471.7L1403.5 470.7L1405.1 471.7L1406.7 470.6L1408.3 470.2L1409.9 471.2L1411.5 471.2L1413.1 470.4L1414.7 469.8L1416.3 469.4L1417.9 470.6L1419.5 469.8L1421.1 470.3L1422.6 469.7L1424.2 469.8L1425.8 469.2L1427.4 469.0L1429.0 469.2L1430.6 468.3L1432.2 468.6L1433.8 468.9L1435.4 468.1L1436.6 468.0" stroke="#C800AE" stroke-width="9.3"/>
<path d="M267.5 478.4L269.1 478.2L270.7 478.1L272.3 477.9L273.9 477.7L275.5 477.5L277.0 477.4L278.6 477.2L280.2 477.0L281.8 476.9L283.4 476.7L285.0 476.5L286.6 476.3L288.2 476.2L289.8 476.0L291.4 475.8L293.0 475.7L294.5 475.5L296.1 475.3L297.7 475.1L299.3 475.0L300.9 474.8L302.5 474.6L304.1 474.5L305.7 474.3L307.3 474.1L308.9 474.0L310.5 473.8L312.0 473.6L313.6 473.5L315.2 473.3L316.8 473.1L318.4 472.9L320.0 472.8L321.6 472.6L323.2 472.4L324.8 472.3L326.4 472.1L328.0 471.9L329.5 471.8L331.1 471.6L332.7 471.4L334.3 471.3L335.9 471.1L337.5 470.9L339.1 470.8L340.7 470.6L342.3 470.4L343.9 470.3L345.5 470.1L347.0 469.9L348.6 469.7L350.2 469.6L351.8 469.4L353.4 469.2L355.0 469.1L356.6 468.9L358.2 468.7L359.8 468.6L361.4 468.4L363.0 468.2L364.5 468.0L366.1 467.9L367.7 467.7L369.3 467.5L370.9 467.3L372.5 467.2L374.1 467.0L375.7 466.8L377.3 466.7L378.9 466.5L380.5 466.3L382.0 466.1L383.6 466.0L385.2 465.8L386.8 465.6L388.4 465.5L390.0 465.3L391.6 465.1L393.2 464.9L394.8 464.8L396.4 464.6L398.0 464.4L399.5 464.2L401.1 464.1L402.7 463.9L404.3 463.7L405.9 463.6L407.5 463.4L409.1 463.2L410.7 463.1L412.3 462.9L413.9 462.7L415.5 462.5L417.0 462.4L418.6 462.2L420.2 462.0L421.8 461.9L423.4 461.7L425.0 461.5L426.6 461.4L428.2 461.2L429.8 461.0L431.4 460.8L433.0 460.7L434.5 460.5L436.1 460.3L437.7 460.1L439.3 460.0L440.9 459.8L442.5 459.6L444.1 459.4L445.7 459.3L447.3 459.1L448.9 458.9L450.4 458.7L452.0 458.5L453.6 458.4L455.2 458.2L456.8 458.0L458.4 457.9L460.0 457.7L461.6 457.4L463.2 457.3L464.8 457.2L466.4 457.3L467.8 457.7L468.8 459.2L469.1 460.7L469.2 462.3L469.3 463.9L469.4 465.5L469.5 467.1L469.5 468.7L469.6 470.3L469.7 471.9L469.7 473.5L469.8 475.1L469.9 476.7L469.9 478.3L470.0 479.9L470.1 481.5L470.1 483.1L470.2 484.7L470.3 486.3L470.3 487.9L470.4 489.5L470.5 491.1L470.6 492.7L470.6 494.3L470.7 495.9L470.8 497.5L470.8 499.1L470.9 500.7L471.0 502.3L471.0 503.9L471.1 505.5L471.2 507.1L471.3 508.7L471.3 510.3L471.4 511.9L471.5 513.5L471.5 515.1L471.6 516.7L471.7 518.3L471.8 519.9L471.8 521.5L471.9 523.1L472.0 524.7L472.1 526.3L472.1 527.9L472.2 529.5L472.3 531.1L472.4 532.7L472.4 534.3L472.5 535.9L472.6 537.5L472.7 539.1L472.7 540.7L472.8 542.3L472.9 543.9L473.0 545.5L473.0 547.0L473.1 548.6L473.2 550.2L473.3 551.8L473.4 553.4L473.4 555.0L473.5 556.6L473.6 558.2L473.7 559.8L473.8 561.4L473.9 563.0L474.0 564.6L474.1 566.2L474.2 567.8L474.3 569.4L474.4 571.0L474.5 572.6L474.6 574.2L474.7 575.8L474.8 577.4L474.9 579.0L475.0 580.6L475.1 582.2L475.2 583.8L475.4 585.4L475.5 587.0L475.6 588.6L475.7 590.2L475.9 591.8L476.0 593.4L476.1 595.0L476.3 596.5L476.4 598.1L476.5 599.7L476.7 601.3L476.8 602.9L477.0 604.5L477.1 606.1L477.3 607.7L477.4 609.3L477.6 610.9L477.7 612.5L477.9 614.1L478.1 615.7L478.3 617.2L478.4 618.8L478.6 620.4L478.8 622.0L479.0 623.6L479.2 625.2L479.4 626.8L479.6 628.4L479.8 630.0L480.0 631.5L480.2 633.1L480.4 634.7L480.6 636.3L480.8 637.9L481.0 639.5L481.2 641.1L481.4 642.7L481.6 644.2L481.8 645.8L482.1 647.4L482.3 649.0L482.5 650.6L482.8 652.2L483.0 653.7L483.3 655.3L483.5 656.9L483.8 658.5L484.0 660.1L484.3 661.6L484.5 663.2L484.8 664.8L485.1 666.4L485.4 667.9L485.6 669.5L485.9 671.1L486.2 672.7L486.5 674.2L486.8 675.8L487.1 677.4L487.4 679.0L487.8 680.5L488.1 682.1L488.4 683.7L488.7 685.2L489.1 686.8L489.4 688.3L489.8 689.9L490.1 691.5L490.5 693.0L490.9 694.6L491.2 696.1L491.6 697.7L492.0 699.2L492.4 700.8L492.8 702.3L493.2 703.9L493.6 705.4L494.0 707.0L494.4 708.5L494.8 710.1L495.2 711.6L495.7 713.2L496.1 714.7L496.5 716.2L497.0 717.8L497.4 719.3L497.9 720.9L498.3 722.4L498.8 723.9L499.3 725.5L499.8 727.0L500.2 728.5L500.7 730.0L501.2 731.6L501.7 733.1L502.2 734.6L502.7 736.1L503.1 737.7L503.6 739.2L504.1 740.7L504.6 742.2L505.1 743.8L505.6 745.3L506.1 746.8L506.6 748.3L507.1 749.9L507.6 751.4L508.1 752.9L508.7 754.4L509.2 755.9L509.8 757.4L510.3 758.9L510.9 760.4L511.5 761.8L512.2 763.3L512.8 764.8L513.5 766.2L514.1 767.7L514.8 769.1L515.5 770.6L516.2 772.0L517.0 773.4L517.7 774.8L518.5 776.3L519.2 777.7L520.0 779.1L520.8 780.5L521.6 781.9L522.4 783.3L523.2 784.7L524.0 786.0L524.8 787.4L525.6 788.8L526.5 790.1L527.4 791.5L528.3 792.8L529.2 794.1L530.1 795.4L531.0 796.7L531.9 798.0L532.9 799.3L533.8 800.6L534.8 801.9L535.7 803.2L536.7 804.4L537.7 805.7L538.7 807.0L539.7 808.2L540.7 809.5L541.7 810.7L542.8 811.9L543.8 813.1L544.8 814.3L545.9 815.6L546.9 816.8L548.0 818.0L549.1 819.2L550.1 820.3L551.2 821.5L552.3 822.7L553.4 823.8L554.5 825.0L555.6 826.2L556.8 827.3L557.9 828.4L559.0 829.6L560.2 830.7L561.3 831.8L562.5 832.9L563.6 834.0L564.8 835.1L566.0 836.2L567.1 837.3L568.3 838.3L569.5 839.4L570.7 840.4L572.0 841.5L573.2 842.5L574.4 843.6L575.6 844.6L576.9 845.6L578.1 846.6L579.4 847.6L580.6 848.6L581.9 849.6L583.1 850.6L584.4 851.5L585.7 852.5L587.0 853.5L588.2 854.4L589.5 855.4L590.8 856.3L592.1 857.2L593.5 858.1L594.8 859.0L596.1 859.9L597.4 860.8L598.8 861.7L600.1 862.6L601.5 863.4L602.8 864.3L604.2 865.1L605.5 866.0L606.9 866.8L608.3 867.6L609.7 868.5L611.0 869.3L612.4 870.1L613.8 870.9L615.2 871.7L616.6 872.4L618.0 873.2L619.4 874.0L620.8 874.8L622.2 875.6L623.6 876.3L625.0 877.0L626.5 877.8L627.9 878.5L629.3 879.2L630.8 879.9L632.2 880.5L633.7 881.2L635.1 881.8L636.6 882.4L638.1 883.0L639.6 883.6L641.1 884.2L642.6 884.8L644.1 885.4L645.6 886.0L647.1 886.5L648.5 887.1L650.0 887.7L651.5 888.3L653.0 888.9L654.5 889.4L656.0 890.0L657.5 890.6L659.0 891.1L660.5 891.7L662.0 892.2L663.5 892.8L665.0 893.3L666.5 893.8L668.0 894.4L669.6 894.9L671.1 895.4L672.6 895.9L674.1 896.4L675.6 896.9L677.2 897.3L678.7 897.8L680.2 898.3L681.8 898.7L683.3 899.1L684.9 899.5L686.4 899.9L688.0 900.3L689.5 900.6L691.1 901.0L692.6 901.4L694.2 901.7L695.8 902.1L697.3 902.5L698.9 902.9L700.4 903.3L702.0 903.7L703.5 904.2L705.0 904.6L706.6 905.1L708.1 905.5L709.6 906.0L711.2 906.4L712.7 906.9L714.2 907.4L715.8 907.8L717.3 908.2L718.8 908.7L720.4 909.1L721.9 909.5L723.5 910.0L725.0 910.4L726.6 910.8L728.1 911.2L729.7 911.6L731.2 912.0L732.8 912.4L734.3 912.8L735.9 913.2L737.4 913.6L739.0 913.9L740.5 914.3L742.1 914.6L743.7 915.0L745.2 915.3L746.8 915.6L748.4 916.0L749.9 916.3L751.5 916.6L753.1 916.9L754.6 917.2L756.2 917.5L757.8 917.8L759.4 918.1L760.9 918.4L762.5 918.6L764.1 918.9L765.7 919.2L767.2 919.4L768.8 919.7L770.4 920.0L772.0 920.2L773.6 920.5L775.1 920.7L776.7 920.9L778.3 921.2L779.9 921.4L781.5 921.7L783.0 921.9L784.6 922.2L786.2 922.4L787.8 922.6L789.4 922.9L791.0 923.1L792.5 923.4L794.1 923.6L795.7 923.8L797.3 924.0L798.9 924.2L800.5 924.5L802.0 924.7L803.6 924.9L805.2 925.1L806.8 925.3L808.4 925.5L810.0 925.7L811.6 925.9L813.2 926.1L814.7 926.3L816.3 926.5L817.9 926.7L819.5 926.8L821.1 927.0L822.7 927.1L824.3 927.2L825.9 927.4L827.5 927.5L829.1 927.6L830.7 927.7L832.3 927.9L833.9 928.0L835.5 928.1L837.1 928.2L838.7 928.3L840.3 928.4L841.9 928.5L843.5 928.6L845.1 928.7L846.7 928.8L848.3 928.9L849.8 929.0L851.4 929.1L853.0 929.2L854.6 929.4L856.2 929.6L857.9 929.9L859.4 930.2L860.8 930.7L862.1 931.7L863.4 932.7L864.7 933.8L865.9 935.1L867.1 936.4L868.3 937.5L869.5 937.9L870.9 937.5L872.4 936.4L873.5 935.3L874.5 934.1L875.3 932.7L876.0 931.2L876.6 929.6L877.1 928.1L877.6 926.6L878.0 925.1L878.4 923.5L878.8 922.0L879.1 920.4L879.4 918.8L879.7 917.2L880.0 915.7L880.3 914.1L880.5 912.5L880.8 910.9L881.0 909.3L881.2 907.7L881.4 906.2L881.6 904.6L881.8 903.0L882.0 901.4L882.2 899.8L882.4 898.2L882.6 896.6L882.8 895.0L882.9 893.5L883.1 891.9L883.3 890.3L883.5 888.7L883.7 887.1L883.9 885.5L884.0 883.9L884.2 882.3L884.3 880.7L884.5 879.1L884.6 877.5L884.7 875.9L884.8 874.3L884.9 872.8L885.0 871.2L885.1 869.6L885.2 868.0L885.2 866.4L885.3 864.8L885.4 863.2L885.5 861.6L885.5 860.0L885.6 858.4L885.7 856.8L885.8 855.2L885.8 853.6L885.9 852.0L886.0 850.4L886.1 848.8L886.1 847.2L886.2 845.6L886.3 844.0L886.4 842.4L886.5 840.8L886.6 839.2L886.7 837.6L886.8 836.0L886.9 834.4L887.0 832.8L887.1 831.2L887.2 829.6L887.3 828.0L887.4 826.4L887.5 824.8L887.6 823.2L887.7 821.6L887.8 820.0L887.9 818.4L888.0 816.8L888.2 815.2L888.3 813.6L888.4 812.0L888.5 810.5L888.6 808.9L888.7 807.3L888.8 805.7L888.9 804.1L889.0 802.5L889.2 800.9L889.3 799.3L889.4 797.7L889.5 796.1L889.6 794.5L889.8 792.9L889.9 791.3L890.0 789.7L890.1 788.1L890.2 786.5L890.4 784.9L890.5 783.3L890.6 781.7L890.7 780.1L890.9 778.5L891.0 776.9L891.1 775.3L891.2 773.8L891.4 772.2L891.5 770.6L891.7 769.0L891.8 767.4L891.9 765.8L892.1 764.2L892.2 762.6L892.4 761.0L892.5 759.4L892.6 757.8L892.8 756.2L892.9 754.6L893.1 753.0L893.2 751.4L893.4 749.9L893.6 748.3L893.7 746.7L893.9 745.1L894.0 743.5L894.2 741.9L894.4 740.3L894.5 738.7L894.7 737.1L894.9 735.5L895.1 733.9L895.2 732.3L895.4 730.8L895.6 729.2L895.8 727.6L896.0 726.0L896.2 724.4L896.4 722.8L896.6 721.2L896.8 719.6L897.0 718.0L897.2 716.5L897.4 714.9L897.6 713.3L897.8 711.7L898.1 710.1L898.3 708.5L898.5 707.0L898.8 705.4L899.1 703.8L899.3 702.2L899.6 700.6L899.9 699.1L900.1 697.5L900.4 695.9L900.7 694.3L901.0 692.8L901.3 691.2L901.6 689.6L901.9 688.1L902.2 686.5L902.6 684.9L902.9 683.4L903.3 681.8L903.6 680.2L904.0 678.7L904.4 677.1L904.8 675.6L905.2 674.0L905.6 672.5L906.1 671.0L906.5 669.4L906.9 667.9L907.4 666.3L907.8 664.8L908.3 663.3L908.8 661.7L909.2 660.2L909.7 658.7L910.2 657.2L910.7 655.6L911.2 654.1L911.7 652.6L912.3 651.1L912.8 649.6L913.3 648.1L913.9 646.6L914.4 645.1L915.0 643.6L915.6 642.1L916.2 640.6L916.8 639.1L917.4 637.6L918.0 636.2L918.6 634.7L919.2 633.2L919.8 631.7L920.5 630.3L921.2 628.8L921.8 627.4L922.5 625.9L923.2 624.5L924.0 623.1L924.7 621.7L925.5 620.3L926.3 618.9L927.0 617.5L927.8 616.1L928.7 614.7L929.5 613.3L930.3 611.9L931.1 610.6L932.0 609.2L932.8 607.8L933.7 606.5L934.5 605.1L935.4 603.8L936.3 602.5L937.2 601.2L938.1 599.8L939.0 598.5L940.0 597.2L940.9 595.9L941.9 594.7L942.8 593.4L943.8 592.1L944.8 590.8L945.8 589.6L946.8 588.3L947.8 587.1L948.9 585.9L949.9 584.7L951.0 583.5L952.1 582.4L953.2 581.2L954.4 580.1L955.5 579.0L956.7 577.9L957.8 576.8L959.0 575.7L960.2 574.6L961.4 573.6L962.6 572.5L963.9 571.5L965.1 570.5L966.3 569.5L967.6 568.5L968.9 567.6L970.2 566.6L971.5 565.7L972.8 564.7L974.1 563.8L975.4 563.0L976.8 562.1L978.1 561.2L979.5 560.4L980.9 559.6L982.3 558.8L983.7 558.0L985.1 557.2L986.5 556.4L987.9 555.7L989.3 554.9L990.7 554.2L992.1 553.5L993.5 552.7L995.0 552.0L996.4 551.3L997.8 550.6L999.3 549.9L1000.7 549.2L1002.2 548.5L1003.6 547.8L1005.1 547.1L1006.5 546.4L1008.0 545.8L1009.4 545.1L1010.9 544.5L1012.3 543.8L1013.8 543.2L1015.3 542.5L1016.7 541.9L1018.2 541.2L1019.7 540.6L1021.1 539.9L1022.6 539.3L1024.0 538.6L1025.5 538.0L1026.9 537.3L1028.4 536.6L1029.9 535.9L1031.3 535.3L1032.8 534.6L1034.2 533.9L1035.7 533.2L1037.1 532.6L1038.6 531.9L1040.0 531.3L1041.5 530.7L1043.0 530.1L1044.5 529.5L1046.0 529.0L1047.5 528.4L1049.0 527.8L1050.5 527.3L1052.0 526.8L1053.5 526.2L1055.0 525.7L1056.5 525.2L1058.1 524.7L1059.6 524.2L1061.1 523.7L1062.6 523.2L1064.1 522.7L1065.7 522.2L1067.2 521.7L1068.7 521.2L1070.3 520.8L1071.8 520.3L1073.3 519.9L1074.9 519.4L1076.4 519.0L1077.9 518.5L1079.5 518.1L1081.0 517.7L1082.6 517.2L1084.1 516.8L1085.6 516.4L1087.2 516.0L1088.7 515.6L1090.3 515.2L1091.8 514.8L1093.4 514.4L1094.9 514.0L1096.5 513.7L1098.1 513.3L1099.6 512.9L1101.2 512.5L1102.7 512.2L1104.3 511.8L1105.9 511.5L1107.4 511.1L1109.0 510.7L1110.5 510.4L1112.1 510.0L1113.7 509.7L1115.2 509.3L1116.8 509.0L1118.3 508.6L1119.9 508.3L1121.5 508.0L1123.0 507.6L1124.6 507.3L1126.2 507.0L1127.7 506.7L1129.3 506.3L1130.9 506.0L1132.4 505.7L1134.0 505.4L1135.6 505.1L1137.2 504.8L1138.7 504.6L1140.3 504.3L1141.9 504.0L1143.5 503.7L1145.0 503.4L1146.6 503.2L1148.2 502.9L1149.8 502.6L1151.3 502.3L1152.9 502.0L1154.5 501.7L1156.1 501.4L1157.6 501.2L1159.2 500.9L1160.8 500.6L1162.4 500.3L1163.9 500.0L1165.5 499.7L1167.1 499.4L1168.6 499.1L1170.2 498.9L1171.8 498.6L1173.4 498.3L1174.9 498.0L1176.5 497.7L1178.1 497.4L1179.7 497.2L1181.2 496.9L1182.8 496.6L1184.4 496.3L1186.0 496.0L1187.5 495.8L1189.1 495.5L1190.7 495.2L1192.3 495.0L1193.9 494.7L1195.4 494.5L1197.0 494.2L1198.6 494.0L1200.2 493.8L1201.8 493.6L1203.4 493.4L1204.9 493.2L1206.5 493.0L1208.1 492.8L1209.7 492.6L1211.3 492.4L1212.9 492.2L1214.5 492.0L1216.1 491.8L1217.7 491.6L1219.2 491.4L1220.8 491.2L1222.4 491.1L1224.0 490.9L1225.6 490.7L1227.2 490.5L1228.8 490.3L1230.4 490.2L1232.0 490.0L1233.6 489.8L1235.1 489.6L1236.7 489.4L1238.3 489.2L1239.9 489.0L1241.5 488.8L1243.1 488.6L1244.7 488.4L1246.3 488.2L1247.8 488.0L1249.4 487.8L1251.0 487.6L1252.6 487.4L1254.2 487.2L1255.8 487.0L1257.4 486.8L1259.0 486.6L1260.5 486.4L1262.1 486.2L1263.7 486.0L1265.3 485.7L1266.9 485.5L1268.5 485.3L1270.1 485.1L1271.6 484.9L1273.2 484.7L1274.8 484.5L1276.4 484.3L1278.0 484.1L1279.6 483.9L1281.2 483.7L1282.8 483.5L1284.3 483.3L1285.9 483.1L1287.5 482.8L1289.1 482.6L1290.7 482.4L1292.3 482.2L1293.9 482.0L1295.4 481.8L1297.0 481.6L1298.6 481.4L1300.2 481.2L1301.8 481.0L1303.4 480.8L1305.0 480.6L1306.6 480.4L1308.1 480.2L1309.7 480.0L1311.3 479.8L1312.9 479.6L1314.5 479.4L1316.1 479.2L1317.7 479.0L1319.3 478.8L1320.8 478.6L1322.4 478.4L1324.0 478.2L1325.6 478.0L1327.2 477.8L1328.8 477.6L1330.4 477.4L1332.0 477.2L1333.5 477.0L1335.1 476.8L1336.7 476.6L1338.3 476.4L1339.9 476.2L1341.5 476.0L1343.1 475.8L1344.7 475.6L1346.2 475.4L1347.8 475.2L1349.4 475.0L1351.0 474.8L1352.6 474.6L1354.2 474.5L1355.8 474.3L1357.4 474.1L1359.0 473.9L1360.5 473.7L1362.1 473.5L1363.7 473.4L1365.3 473.2L1366.9 473.0L1368.5 472.8L1370.1 472.6L1371.7 472.5L1373.3 472.3L1374.9 472.1L1376.4 472.0L1378.0 471.8L1379.6 471.7L1381.2 471.5L1382.8 471.3L1384.4 471.2L1386.0 471.0L1387.6 470.9L1389.2 470.7L1390.8 470.6L1392.4 470.4L1394.0 470.2L1395.6 470.1L1397.1 469.9L1398.7 469.8L1400.3 469.6L1401.9 469.5L1403.5 469.4L1405.1 469.2L1406.7 469.1L1408.3 468.9L1409.9 468.8L1411.5 468.6L1413.1 468.5L1414.7 468.4L1416.3 468.2L1417.9 468.1L1419.5 468.0L1421.1 467.8L1422.6 467.7L1424.2 467.6L1425.8 467.4L1427.4 467.3L1429.0 467.2L1430.6 467.1L1432.2 466.9L1433.8 466.8L1435.4 466.7L1436.6 466.6" stroke="#C800AE" stroke-width="9.3"/>
<path d="M267.5 389.3L269.1 389.9L270.7 388.7L272.3 389.9L273.9 389.0L275.5 389.1L277.1 389.7L278.7 389.1L280.3 389.3L281.9 388.5L283.5 389.6L285.1 389.3L286.7 389.0L288.3 389.6L289.9 388.9L291.5 389.1L293.1 388.7L294.7 389.0L296.3 388.7L297.9 388.8L299.5 389.5L301.1 388.8L302.7 389.1L304.3 389.8L305.9 389.8L307.5 389.4L309.1 389.2L310.7 388.8L312.3 388.6L313.9 389.8L315.5 389.1L317.1 388.6L318.7 389.3L320.3 389.5L321.9 389.2L323.5 389.6L325.1 388.4L326.7 389.1L328.3 389.0L329.9 388.4L331.5 389.2L333.1 389.5L334.7 389.1L336.3 388.7L337.9 389.5L339.5 389.0L341.1 389.0L342.7 389.3L344.3 388.5L345.9 389.4L347.5 389.2L349.1 389.4L350.7 388.5L352.3 389.4L353.9 388.5L355.5 388.3L357.1 389.4L358.7 389.4L360.3 389.4L361.9 388.8L363.5 388.6L365.1 388.2L366.7 389.1L368.3 389.2L369.9 389.3L371.5 388.5L373.1 388.4L374.7 389.0L376.3 389.2L377.9 389.4L379.5 388.3L381.1 388.7L382.7 389.3L384.3 388.6L385.9 388.9L387.5 388.1L389.1 389.0L390.7 389.3L392.3 389.2L393.9 389.2L395.5 388.9L397.1 388.3L398.7 389.0L400.3 388.2L401.9 389.1L403.5 388.0L405.1 389.1L406.7 388.1L408.3 388.4L409.9 388.3L411.5 388.8L413.1 388.1L414.7 388.4L416.3 387.9L417.9 388.2L419.5 388.4L421.1 388.0L422.7 388.7L424.3 388.3L425.9 388.8L427.5 388.7L429.1 388.4L430.7 389.0L432.3 388.6L433.9 388.9L435.5 388.2L437.1 388.4L438.7 387.9L440.3 389.0L441.9 388.0L443.5 387.9L445.1 387.6L446.7 387.9L448.3 388.5L449.9 388.4L451.5 387.5L453.1 387.8L454.7 387.8L456.3 388.1L457.9 387.8L459.5 387.9L461.1 388.2L462.7 388.0L464.3 387.4L465.9 387.5L467.5 387.4L469.1 387.4L470.4 388.3L471.4 389.8L471.9 391.3L472.4 392.8L472.7 394.8L473.0 396.9L473.3 398.3L473.7 399.8L474.0 401.4L474.3 402.7L474.5 404.8L474.8 406.0L475.2 407.3L475.5 408.3L475.9 410.4L476.4 411.5L476.8 412.9L477.4 415.0L477.9 416.9L478.5 417.7L479.0 419.9L479.6 421.0L480.2 422.0L480.8 424.6L481.4 425.3L482.0 426.6L482.7 428.9L483.3 429.3L484.0 431.6L484.7 432.3L485.5 434.0L486.3 435.1L487.0 437.4L487.8 438.2L488.6 440.4L489.4 441.3L490.2 442.7L491.0 443.9L491.9 444.9L492.7 446.4L493.6 448.5L494.5 448.8L495.4 451.3L496.3 452.2L497.2 453.0L498.2 454.6L499.2 455.5L500.2 456.8L501.1 458.3L502.1 458.9L503.0 460.8L504.0 462.8L504.9 463.1L505.9 465.1L506.8 466.0L507.8 466.9L508.8 469.1L509.8 469.0L510.9 470.6L512.0 472.7L513.2 472.8L514.3 474.8L515.5 475.5L516.7 476.9L517.9 477.7L519.2 478.3L520.4 479.8L521.7 479.8L523.0 481.3L524.3 482.2L525.6 483.2L526.9 483.6L528.3 484.6L529.7 485.9L531.0 486.5L532.4 487.8L533.9 488.3L535.3 489.3L536.7 489.8L538.2 490.4L539.6 490.7L541.0 492.1L542.4 492.1L543.9 492.6L545.3 494.6L546.7 494.8L548.1 495.9L549.5 496.3L550.9 497.2L552.3 497.2L553.7 498.2L555.1 499.6L556.5 500.3L557.9 500.5L559.3 502.3L560.7 502.0L562.1 503.2L563.5 503.5L564.9 505.0L566.3 505.2L567.7 505.7L569.2 506.3L570.6 507.2L572.0 508.0L573.4 509.2L574.9 509.8L576.3 511.2L577.7 511.9L579.2 512.4L580.6 513.0L582.0 513.9L583.5 514.7L584.9 514.1L586.4 514.9L587.8 515.9L589.3 516.2L590.8 517.5L592.2 517.7L593.7 518.3L595.2 518.9L596.7 519.2L598.2 520.6L599.7 521.1L601.2 521.5L602.7 521.3L604.2 522.4L605.7 523.3L607.3 523.1L608.8 523.9L610.3 523.9L611.8 524.6L613.3 525.3L614.8 526.1L616.3 526.6L617.8 527.8L619.4 527.5L620.9 527.6L622.4 529.2L623.9 528.7L625.4 529.2L626.9 531.0L628.4 531.2L630.0 531.1L631.5 531.3L633.0 532.2L634.5 532.6L636.1 533.8L637.6 533.6L639.1 533.6L640.7 535.2L642.2 535.2L643.7 535.0L645.3 535.4L646.8 536.3L648.4 536.2L649.9 537.4L651.4 537.8L653.0 537.4L654.5 539.0L656.1 539.4L657.6 540.0L659.1 540.1L660.7 540.6L662.2 540.3L663.7 540.5L665.3 541.0L666.8 542.7L668.4 542.7L669.9 543.5L671.5 543.0L673.0 544.0L674.6 543.4L676.1 543.9L677.7 544.4L679.3 545.1L680.8 545.5L682.4 545.7L684.0 546.0L685.5 546.5L687.1 547.4L688.7 547.0L690.2 547.9L691.8 547.1L693.4 547.9L694.9 548.5L696.5 548.9L698.0 548.7L699.6 549.3L701.2 550.4L702.7 550.3L704.3 550.5L705.9 550.1L707.5 550.4L709.0 550.9L710.6 551.1L712.2 552.6L713.7 551.5L715.3 552.2L716.9 552.1L718.5 553.2L720.1 552.6L721.6 552.9L723.2 553.2L724.8 553.7L726.4 554.4L728.0 554.9L729.5 554.4L731.1 554.7L732.7 555.7L734.3 555.9L735.9 555.3L737.4 556.5L739.0 556.8L740.6 556.1L742.2 557.0L743.7 556.6L745.3 557.0L746.9 557.6L748.5 557.9L750.1 558.1L751.6 558.4L753.2 558.2L754.8 559.3L756.4 558.8L758.0 560.0L759.5 559.7L761.1 559.6L762.7 559.7L764.3 560.4L765.9 560.5L767.4 561.1L769.0 561.2L770.6 560.8L772.2 562.2L773.8 561.3L775.3 562.7L776.9 562.9L778.5 563.3L780.1 563.2L781.6 562.8L783.2 563.4L784.8 563.7L786.4 564.2L788.0 564.1L789.5 564.8L791.1 564.4L792.7 564.9L794.3 565.4L795.9 565.5L797.4 565.3L799.0 566.7L800.6 566.6L802.2 567.1L803.8 566.6L805.3 567.7L806.9 567.8L808.5 568.2L810.1 567.4L811.7 568.0L813.2 568.1L814.8 568.7L816.4 568.4L818.0 568.4L819.6 569.2L821.2 569.7L822.7 569.5L824.3 570.6L825.9 570.0L827.5 570.1L829.1 571.0L830.7 570.8L832.3 570.7L833.8 571.0L835.4 572.1L837.0 572.3L838.6 572.1L840.2 571.8L841.8 572.6L843.3 572.1L844.9 572.5L846.5 573.0L848.1 573.0L849.7 573.2L851.3 574.2L852.9 573.3L854.5 574.1L856.0 573.5L857.6 573.8L859.2 574.2L860.8 575.5L862.4 575.2L864.0 575.2L865.6 573.8L867.1 574.2L868.4 573.0L869.7 571.9L870.9 571.3L872.1 569.6L873.3 568.8L874.4 567.2L875.4 566.2L876.3 565.2L877.2 563.3L878.0 562.1L878.8 561.0L879.6 559.6L880.3 558.7L881.1 557.0L881.8 555.4L882.5 554.4L883.3 552.0L884.0 550.5L884.8 549.5L885.6 547.7L886.4 546.9L887.2 545.6L888.1 543.6L888.9 543.1L889.8 541.5L890.6 540.0L891.5 539.3L892.3 537.9L893.2 535.6L894.0 534.2L894.9 533.9L895.7 531.4L896.5 530.9L897.3 528.9L898.1 527.6L898.9 526.5L899.7 525.6L900.5 522.9L901.2 521.7L902.0 521.1L902.8 519.2L903.6 517.7L904.4 517.2L905.2 514.9L906.0 514.1L906.8 513.1L907.7 511.5L908.5 510.1L909.4 508.8L910.3 507.6L911.2 505.5L912.1 504.7L913.0 503.6L913.9 502.4L914.9 501.1L915.8 499.8L916.7 497.3L917.6 496.4L918.5 495.2L919.4 494.5L920.2 492.5L921.1 490.9L922.0 489.2L922.9 488.2L923.7 487.6L924.6 485.2L925.5 484.1L926.4 482.9L927.3 481.9L928.2 480.4L929.2 479.8L930.1 477.6L931.1 476.8L932.1 475.9L933.1 474.8L934.1 473.5L935.1 471.2L936.1 470.9L937.2 469.5L938.2 468.0L939.3 466.3L940.4 465.3L941.5 465.0L942.7 462.9L943.8 462.1L945.0 461.0L946.2 460.6L947.4 459.0L948.6 457.6L949.8 456.9L951.0 455.8L952.3 455.3L953.5 453.7L954.7 453.2L955.9 451.9L957.1 451.4L958.3 450.1L959.6 448.6L960.8 447.7L962.0 446.7L963.3 446.2L964.5 444.2L965.8 443.7L967.1 442.8L968.3 441.7L969.6 441.0L970.9 439.9L972.2 438.9L973.5 438.3L974.9 436.9L976.2 436.5L977.5 435.8L978.9 434.1L980.3 433.6L981.7 433.6L983.1 432.9L984.5 432.2L985.9 430.1L987.4 430.5L988.8 430.0L990.3 429.3L991.8 428.4L993.2 427.7L994.7 427.2L996.2 426.5L997.7 426.3L999.2 425.4L1000.8 424.5L1002.3 423.8L1003.8 424.5L1005.4 423.8L1006.9 422.6L1008.4 423.0L1010.0 421.8L1011.5 421.8L1013.0 420.9L1014.6 420.3L1016.1 419.7L1017.6 419.1L1019.1 418.6L1020.7 418.1L1022.2 417.7L1023.7 418.3L1025.3 417.3L1026.8 416.3L1028.3 416.5L1029.9 416.0L1031.4 415.6L1033.0 414.8L1034.5 414.7L1036.1 414.9L1037.6 413.8L1039.2 413.6L1040.7 413.9L1042.3 412.5L1043.8 412.8L1045.4 412.1L1047.0 412.2L1048.5 411.3L1050.1 411.2L1051.6 410.6L1053.2 411.0L1054.8 410.7L1056.3 409.9L1057.9 410.1L1059.5 409.4L1061.0 409.2L1062.6 409.0L1064.2 407.8L1065.7 408.5L1067.3 407.4L1068.9 407.2L1070.5 406.5L1072.0 407.1L1073.6 406.2L1075.2 406.4L1076.8 405.5L1078.4 405.5L1079.9 405.3L1081.5 404.8L1083.1 404.3L1084.7 405.1L1086.3 405.2L1087.9 403.9L1089.5 403.6L1091.0 403.7L1092.6 403.1L1094.2 403.7L1095.8 403.1L1097.4 403.2L1099.0 403.5L1100.6 403.2L1102.1 403.1L1103.7 402.9L1105.3 402.2L1106.9 401.9L1108.5 401.1L1110.1 401.0L1111.7 401.4L1113.3 401.7L1114.9 400.9L1116.4 400.1L1118.0 400.2L1119.6 400.8L1121.2 399.8L1122.8 399.6L1124.4 399.6L1126.0 399.8L1127.6 400.0L1129.2 398.9L1130.8 399.3L1132.3 399.0L1133.9 398.7L1135.5 398.7L1137.1 398.9L1138.7 397.8L1140.3 398.0L1141.9 397.3L1143.5 397.7L1145.1 397.9L1146.7 398.0L1148.2 397.1L1149.8 396.7L1151.4 396.9L1153.0 396.5L1154.6 396.0L1156.2 396.4L1157.8 396.6L1159.4 396.6L1161.0 396.6L1162.6 395.6L1164.2 395.3L1165.8 395.0L1167.4 395.3L1169.0 395.7L1170.6 394.8L1172.1 395.6L1173.7 395.2L1175.3 394.4L1176.9 394.9L1178.5 395.1L1180.1 395.1L1181.7 393.9L1183.3 394.7L1184.9 394.5L1186.5 393.7L1188.1 393.7L1189.7 394.5L1191.3 393.5L1192.9 393.3L1194.5 393.8L1196.1 392.9L1197.7 393.3L1199.3 393.0L1200.9 393.2L1202.5 393.1L1204.1 393.1L1205.7 392.7L1207.3 393.2L1208.9 393.1L1210.5 393.1L1212.1 392.3L1213.7 392.6L1215.3 392.1L1216.9 391.8L1218.4 392.2L1220.0 392.5L1221.6 392.2L1223.2 391.4L1224.8 391.2L1226.4 391.9L1228.0 391.7L1229.6 391.8L1231.2 390.8L1232.8 391.7L1234.4 391.0L1236.0 390.7L1237.6 390.7L1239.2 391.5L1240.8 391.3L1242.4 390.0L1244.0 390.3L1245.6 390.7L1247.2 389.7L1248.8 389.6L1250.4 389.5L1252.0 390.6L1253.6 389.7L1255.2 389.6L1256.8 390.2L1258.4 389.4L1260.0 389.9L1261.6 389.3L1263.2 389.1L1264.8 389.2L1266.4 388.8L1268.0 388.6L1269.6 389.6L1271.2 389.5L1272.8 388.8L1274.4 389.1L1276.0 389.2L1277.6 388.5L1279.2 388.9L1280.8 388.8L1282.4 387.8L1283.9 387.8L1285.5 388.6L1287.1 388.4L1288.7 387.6L1290.3 388.5L1291.9 388.4L1293.5 387.6L1295.1 387.6L1296.7 387.2L1298.3 387.6L1299.9 387.0L1301.5 387.6L1303.1 387.6L1304.7 387.5L1306.3 386.8L1307.9 387.5L1309.5 387.6L1311.1 386.7L1312.7 387.3L1314.3 387.5L1315.9 386.6L1317.5 387.6L1319.1 387.6L1320.7 387.2L1322.3 387.4L1323.9 386.5L1325.5 387.0L1327.1 387.3L1328.7 386.0L1330.3 387.1L1331.9 386.2L1333.5 386.9L1335.1 386.7L1336.7 386.9L1338.3 386.3L1339.9 386.3L1341.5 386.9L1343.1 385.7L1344.7 385.8L1346.3 386.9L1347.9 386.7L1349.5 385.6L1351.1 386.7L1352.7 385.7L1354.3 386.5L1355.9 386.5L1357.5 385.2L1359.1 385.2L1360.7 385.6L1362.3 386.4L1363.9 386.1L1365.5 385.5L1367.1 386.2L1368.7 385.3L1370.3 385.3L1371.9 385.1L1373.5 386.1L1375.1 385.8L1376.7 385.3L1378.3 385.0L1379.9 385.9L1381.5 385.1L1383.1 384.8L1384.7 385.0L1386.3 385.4L1387.9 385.4L1389.5 384.4L1391.1 385.5L1392.7 385.1L1394.3 384.2L1395.9 385.2L1397.5 385.4L1399.1 385.1L1400.7 383.9L1402.3 384.5L1403.9 384.6L1405.5 385.0L1407.1 384.4L1408.7 383.7L1410.3 384.9L1411.9 384.8L1413.5 384.1L1415.1 383.5L1416.7 384.5L1418.3 384.3L1419.9 384.6L1421.5 383.2L1423.1 383.7L1424.7 383.4L1426.3 383.1L1427.9 384.0L1429.5 383.3L1431.1 382.9L1432.7 382.9L1434.3 383.8L1435.9 383.5L1437.5 382.9L1439.1 383.5L1440.6 382.6" stroke="#E46C0A" stroke-width="11.0"/>
<path d="M267.5 391.2L269.1 391.2L270.7 390.2L272.3 391.0L273.9 391.2L275.5 391.3L277.1 391.2L278.7 391.5L280.3 391.3L281.9 391.5L283.5 390.8L285.1 390.2L286.7 390.4L288.3 390.6L289.9 390.2L291.5 390.3L293.1 390.9L294.7 390.5L296.3 390.6L297.9 391.2L299.5 391.3L301.1 391.4L302.7 390.7L304.3 391.1L305.9 391.3L307.5 390.3L309.1 390.4L310.7 391.0L312.3 390.5L313.9 390.4L315.5 390.6L317.1 390.1L318.7 390.7L320.3 390.1L321.9 390.4L323.5 390.4L325.1 390.5L326.7 390.2L328.3 390.7L329.9 391.0L331.5 390.5L333.1 391.3L334.7 391.2L336.3 390.4L337.9 390.1L339.5 391.1L341.1 390.3L342.7 390.4L344.3 390.8L345.9 391.4L347.5 390.4L349.1 390.6L350.7 390.8L352.3 390.9L353.9 390.2L355.5 390.8L357.1 390.7L358.7 390.8L360.3 390.1L361.9 390.1L363.5 391.2L365.1 391.0L366.7 391.0L368.3 391.2L369.9 391.2L371.5 390.4L373.1 390.9L374.7 390.7L376.3 390.6L377.9 390.7L379.5 390.2L381.1 391.0L382.7 390.3L384.3 390.0L385.9 389.8L387.5 390.6L389.1 390.0L390.7 391.1L392.3 390.0L393.9 390.1L395.5 391.1L397.1 390.4L398.7 390.9L400.3 390.7L401.9 389.8L403.5 389.9L405.1 390.2L406.7 390.8L408.3 390.1L409.9 390.2L411.5 390.3L413.1 390.0L414.7 390.7L416.3 389.6L417.9 389.9L419.5 390.7L421.1 390.4L422.7 390.2L424.3 390.0L425.9 389.7L427.5 390.1L429.1 390.8L430.7 390.3L432.3 390.2L433.9 390.8L435.5 390.6L437.1 390.8L438.7 390.7L440.3 390.3L441.9 389.7L443.5 390.2L445.1 389.7L446.7 390.3L448.3 389.3L449.9 389.7L451.5 390.2L453.1 389.6L454.7 389.8L456.3 389.0L457.9 389.2L459.5 390.1L461.1 389.6L462.7 389.2L464.3 389.3L465.9 389.6L467.5 389.7L469.1 390.1L470.4 390.1L471.4 391.5L471.9 393.4L472.4 394.8L472.7 396.4L473.0 397.6L473.3 399.3L473.7 401.5L474.0 402.5L474.3 404.6L474.5 405.2L474.8 408.1L475.2 408.6L475.5 410.5L475.9 412.7L476.4 413.3L476.8 414.8L477.4 417.4L477.9 418.8L478.5 419.7L479.0 420.6L479.6 422.8L480.2 423.8L480.8 425.3L481.4 427.8L482.0 428.8L482.7 430.0L483.3 430.9L484.0 432.8L484.7 434.9L485.5 435.5L486.3 437.0L487.0 438.8L487.8 439.7L488.6 441.5L489.4 443.2L490.2 443.9L491.0 445.5L491.9 447.0L492.7 448.1L493.6 449.2L494.5 450.4L495.4 452.4L496.3 454.2L497.2 454.2L498.2 456.7L499.2 458.1L500.2 458.7L501.1 460.6L502.1 461.5L503.0 462.6L504.0 463.8L504.9 465.1L505.9 466.7L506.8 467.4L507.8 469.3L508.8 470.2L509.8 471.7L510.9 473.2L512.0 473.4L513.2 474.7L514.3 475.7L515.5 476.4L516.7 478.3L517.9 479.4L519.2 480.9L520.4 481.3L521.7 482.0L523.0 483.7L524.3 483.4L525.6 484.7L526.9 486.2L528.3 486.2L529.7 487.3L531.0 488.8L532.4 488.9L533.9 489.5L535.3 491.1L536.7 490.6L538.2 492.4L539.6 492.4L541.0 493.0L542.4 494.1L543.9 494.9L545.3 496.3L546.7 496.8L548.1 497.1L549.5 498.0L550.9 498.5L552.3 500.2L553.7 500.1L555.1 501.6L556.5 502.1L557.9 503.2L559.3 503.2L560.7 504.0L562.1 504.7L563.5 506.1L564.9 507.1L566.3 507.6L567.7 507.9L569.2 509.1L570.6 509.7L572.0 510.2L573.4 510.4L574.9 511.2L576.3 512.6L577.7 512.6L579.2 513.8L580.6 514.8L582.0 515.3L583.5 516.0L584.9 516.2L586.4 516.6L587.8 517.2L589.3 517.8L590.8 518.7L592.2 519.8L593.7 520.2L595.2 520.4L596.7 521.2L598.2 521.9L599.7 523.0L601.2 523.3L602.7 523.0L604.2 524.1L605.7 524.3L607.3 525.8L608.8 526.3L610.3 526.4L611.8 527.2L613.3 527.6L614.8 528.3L616.3 528.1L617.8 528.5L619.4 529.8L620.9 530.6L622.4 530.1L623.9 531.1L625.4 531.6L626.9 531.8L628.4 532.9L630.0 532.5L631.5 533.4L633.0 533.9L634.5 535.1L636.1 535.2L637.6 535.7L639.1 536.6L640.7 535.9L642.2 536.9L643.7 536.6L645.3 537.1L646.8 538.3L648.4 538.9L649.9 539.1L651.4 539.5L653.0 540.2L654.5 540.9L656.1 541.3L657.6 541.6L659.1 541.5L660.7 542.4L662.2 542.1L663.7 543.5L665.3 543.0L666.8 544.4L668.4 543.9L669.9 544.2L671.5 544.7L673.0 545.3L674.6 545.3L676.1 545.7L677.7 546.9L679.3 547.3L680.8 546.6L682.4 547.3L684.0 547.6L685.5 548.6L687.1 548.7L688.7 548.6L690.2 549.5L691.8 549.6L693.4 549.4L694.9 550.5L696.5 550.4L698.0 551.3L699.6 551.3L701.2 550.9L702.7 552.1L704.3 552.2L705.9 552.4L707.5 552.6L709.0 553.2L710.6 552.7L712.2 553.6L713.7 554.5L715.3 553.7L716.9 553.9L718.5 554.5L720.1 555.0L721.6 555.0L723.2 555.4L724.8 556.0L726.4 556.4L728.0 555.6L729.5 556.3L731.1 556.9L732.7 556.3L734.3 557.9L735.9 557.7L737.4 557.7L739.0 557.9L740.6 557.8L742.2 557.9L743.7 559.0L745.3 559.6L746.9 559.7L748.5 558.9L750.1 559.2L751.6 560.1L753.2 560.4L754.8 560.7L756.4 561.4L758.0 561.6L759.5 562.0L761.1 561.4L762.7 561.8L764.3 562.8L765.9 562.6L767.4 562.0L769.0 563.4L770.6 563.3L772.2 563.0L773.8 563.4L775.3 564.0L776.9 564.4L778.5 564.3L780.1 565.0L781.6 565.0L783.2 565.9L784.8 566.0L786.4 565.2L788.0 565.4L789.5 566.7L791.1 566.7L792.7 567.4L794.3 566.9L795.9 566.8L797.4 566.9L799.0 568.2L800.6 567.5L802.2 568.5L803.8 568.6L805.3 569.1L806.9 569.7L808.5 568.9L810.1 569.5L811.7 570.1L813.2 569.6L814.8 569.7L816.4 570.0L818.0 571.3L819.6 571.3L821.2 570.7L822.7 570.7L824.3 571.8L825.9 571.6L827.5 571.7L829.1 571.9L830.7 572.5L832.3 572.5L833.8 573.6L835.4 573.3L837.0 574.0L838.6 574.2L840.2 574.4L841.8 574.0L843.3 574.4L844.9 574.5L846.5 574.0L848.1 575.5L849.7 574.6L851.3 575.4L852.9 575.7L854.5 576.1L856.0 575.9L857.6 576.3L859.2 576.7L860.8 576.7L862.4 576.8L864.0 576.9L865.6 575.5L867.1 575.7L868.4 574.1L869.7 573.2L870.9 572.0L872.1 572.1L873.3 570.2L874.4 569.3L875.4 568.5L876.3 567.1L877.2 566.1L878.0 564.1L878.8 563.1L879.6 561.9L880.3 559.4L881.1 558.5L881.8 556.5L882.5 555.7L883.3 553.9L884.0 553.2L884.8 551.3L885.6 549.5L886.4 549.1L887.2 547.1L888.1 545.2L888.9 544.2L889.8 543.0L890.6 541.1L891.5 539.9L892.3 538.8L893.2 537.5L894.0 536.3L894.9 534.7L895.7 533.4L896.5 532.2L897.3 530.7L898.1 529.8L898.9 528.5L899.7 526.0L900.5 524.8L901.2 523.3L902.0 522.3L902.8 520.9L903.6 520.0L904.4 518.6L905.2 517.5L906.0 515.8L906.8 514.3L907.7 513.5L908.5 511.7L909.4 510.0L910.3 508.6L911.2 506.9L912.1 506.8L913.0 505.2L913.9 503.4L914.9 502.8L915.8 501.3L916.7 499.5L917.6 498.9L918.5 497.5L919.4 495.5L920.2 494.2L921.1 492.4L922.0 491.0L922.9 490.0L923.7 488.5L924.6 487.0L925.5 486.6L926.4 485.5L927.3 483.8L928.2 482.8L929.2 481.5L930.1 479.9L931.1 478.5L932.1 477.0L933.1 475.9L934.1 474.4L935.1 473.0L936.1 472.2L937.2 471.2L938.2 469.9L939.3 469.0L940.4 467.2L941.5 465.6L942.7 464.8L943.8 463.8L945.0 463.1L946.2 461.8L947.4 461.1L948.6 459.5L949.8 458.8L951.0 457.1L952.3 457.0L953.5 456.2L954.7 455.1L955.9 454.1L957.1 452.1L958.3 452.2L959.6 450.5L960.8 449.0L962.0 447.9L963.3 446.8L964.5 446.6L965.8 445.6L967.1 444.9L968.3 443.7L969.6 442.6L970.9 441.1L972.2 441.0L973.5 439.1L974.9 439.1L976.2 437.5L977.5 436.7L978.9 436.9L980.3 436.1L981.7 435.0L983.1 433.6L984.5 433.2L985.9 432.3L987.4 431.2L988.8 430.7L990.3 429.8L991.8 430.5L993.2 428.8L994.7 428.5L996.2 427.7L997.7 427.8L999.2 427.2L1000.8 426.9L1002.3 425.4L1003.8 425.2L1005.4 425.3L1006.9 424.8L1008.4 424.7L1010.0 423.2L1011.5 423.1L1013.0 422.7L1014.6 422.4L1016.1 421.7L1017.6 421.7L1019.1 420.4L1020.7 419.8L1022.2 419.7L1023.7 418.9L1025.3 418.9L1026.8 418.7L1028.3 417.5L1029.9 417.6L1031.4 417.3L1033.0 417.0L1034.5 415.8L1036.1 416.5L1037.6 416.0L1039.2 415.0L1040.7 414.9L1042.3 414.9L1043.8 414.7L1045.4 413.5L1047.0 413.9L1048.5 413.1L1050.1 413.5L1051.6 413.0L1053.2 411.9L1054.8 411.6L1056.3 411.4L1057.9 411.8L1059.5 410.3L1061.0 410.5L1062.6 410.3L1064.2 410.1L1065.7 408.9L1067.3 409.3L1068.9 408.8L1070.5 408.4L1072.0 409.0L1073.6 407.5L1075.2 408.1L1076.8 407.2L1078.4 408.0L1079.9 407.1L1081.5 406.8L1083.1 406.3L1084.7 406.5L1086.3 406.8L1087.9 405.4L1089.5 406.0L1091.0 405.1L1092.6 405.0L1094.2 405.7L1095.8 404.4L1097.4 405.1L1099.0 404.0L1100.6 404.4L1102.1 404.4L1103.7 403.5L1105.3 404.2L1106.9 403.2L1108.5 403.4L1110.1 402.9L1111.7 403.4L1113.3 402.5L1114.9 402.4L1116.4 401.8L1118.0 402.9L1119.6 401.5L1121.2 401.7L1122.8 402.0L1124.4 401.3L1126.0 401.5L1127.6 401.0L1129.2 401.5L1130.8 400.4L1132.3 400.0L1133.9 399.9L1135.5 400.3L1137.1 400.2L1138.7 400.4L1140.3 400.4L1141.9 399.4L1143.5 399.8L1145.1 399.1L1146.7 398.9L1148.2 398.3L1149.8 399.2L1151.4 398.3L1153.0 398.6L1154.6 398.2L1156.2 398.8L1157.8 397.6L1159.4 397.9L1161.0 398.1L1162.6 397.1L1164.2 397.8L1165.8 397.3L1167.4 396.6L1169.0 397.7L1170.6 396.8L1172.1 396.7L1173.7 397.0L1175.3 397.2L1176.9 396.1L1178.5 395.8L1180.1 396.5L1181.7 396.3L1183.3 395.9L1184.9 396.1L1186.5 396.4L1188.1 396.1L1189.7 395.6L1191.3 396.0L1192.9 395.9L1194.5 395.6L1196.1 394.6L1197.7 395.1L1199.3 395.1L1200.9 395.3L1202.5 394.7L1204.1 394.8L1205.7 394.8L1207.3 393.8L1208.9 393.7L1210.5 393.5L1212.1 393.5L1213.7 393.6L1215.3 393.3L1216.9 393.9L1218.4 393.8L1220.0 393.5L1221.6 392.8L1223.2 393.4L1224.8 392.8L1226.4 392.5L1228.0 393.5L1229.6 393.6L1231.2 392.3L1232.8 393.1L1234.4 392.1L1236.0 392.8L1237.6 392.8L1239.2 392.6L1240.8 393.1L1242.4 392.5L1244.0 391.8L1245.6 392.7L1247.2 391.8L1248.8 392.0L1250.4 391.8L1252.0 392.2L1253.6 391.1L1255.2 391.4L1256.8 391.4L1258.4 391.5L1260.0 391.9L1261.6 390.9L1263.2 390.9L1264.8 391.3L1266.4 390.5L1268.0 390.9L1269.6 390.5L1271.2 390.9L1272.8 390.7L1274.4 390.8L1276.0 390.3L1277.6 390.0L1279.2 389.6L1280.8 390.3L1282.4 389.7L1283.9 389.3L1285.5 389.8L1287.1 389.5L1288.7 390.0L1290.3 389.4L1291.9 389.4L1293.5 389.9L1295.1 389.7L1296.7 388.9L1298.3 389.5L1299.9 389.9L1301.5 389.8L1303.1 389.7L1304.7 388.8L1306.3 389.7L1307.9 388.6L1309.5 388.8L1311.1 388.3L1312.7 388.9L1314.3 389.1L1315.9 389.0L1317.5 388.0L1319.1 389.3L1320.7 388.3L1322.3 388.9L1323.9 389.1L1325.5 388.8L1327.1 388.4L1328.7 388.4L1330.3 387.8L1331.9 388.1L1333.5 388.7L1335.1 388.4L1336.7 388.4L1338.3 388.4L1339.9 387.8L1341.5 388.7L1343.1 387.7L1344.7 387.5L1346.3 388.1L1347.9 387.4L1349.5 388.5L1351.1 387.9L1352.7 387.2L1354.3 387.0L1355.9 387.8L1357.5 387.0L1359.1 386.9L1360.7 387.4L1362.3 387.4L1363.9 387.9L1365.5 386.9L1367.1 387.9L1368.7 387.2L1370.3 387.8L1371.9 386.7L1373.5 386.5L1375.1 387.0L1376.7 386.7L1378.3 387.0L1379.9 387.4L1381.5 387.5L1383.1 386.3L1384.7 386.5L1386.3 386.5L1387.9 386.3L1389.5 386.6L1391.1 386.0L1392.7 386.1L1394.3 385.9L1395.9 386.4L1397.5 387.0L1399.1 385.9L1400.7 386.8L1402.3 386.0L1403.9 386.5L1405.5 386.6L1407.1 386.2L1408.7 386.3L1410.3 386.1L1411.9 386.5L1413.5 386.2L1415.1 385.7L1416.7 385.4L1418.3 385.2L1419.9 385.6L1421.5 385.2L1423.1 385.1L1424.7 386.0L1426.3 385.7L1427.9 385.4L1429.5 385.7L1431.1 385.2L1432.7 385.0L1434.3 385.3L1435.9 385.2L1437.5 384.6L1439.1 384.7L1440.6 384.9" stroke="#E46C0A" stroke-width="11.0"/>
<path d="M267.5 390.1L269.1 390.1L270.7 390.1L272.3 390.1L273.9 390.1L275.5 390.1L277.1 390.1L278.7 390.1L280.3 390.1L281.9 390.1L283.5 390.1L285.1 390.0L286.7 390.0L288.3 390.0L289.9 390.0L291.5 390.0L293.1 390.0L294.7 390.0L296.3 390.0L297.9 390.0L299.5 390.0L301.1 390.0L302.7 390.0L304.3 390.0L305.9 390.0L307.5 390.0L309.1 390.0L310.7 390.0L312.3 390.0L313.9 390.0L315.5 389.9L317.1 389.9L318.7 389.9L320.3 389.9L321.9 389.9L323.5 389.9L325.1 389.9L326.7 389.9L328.3 389.9L329.9 389.9L331.5 389.9L333.1 389.9L334.7 389.9L336.3 389.9L337.9 389.9L339.5 389.8L341.1 389.8L342.7 389.8L344.3 389.8L345.9 389.8L347.5 389.8L349.1 389.8L350.7 389.8L352.3 389.8L353.9 389.8L355.5 389.8L357.1 389.8L358.7 389.8L360.3 389.7L361.9 389.7L363.5 389.7L365.1 389.7L366.7 389.7L368.3 389.7L369.9 389.7L371.5 389.7L373.1 389.7L374.7 389.7L376.3 389.7L377.9 389.6L379.5 389.6L381.1 389.6L382.7 389.6L384.3 389.6L385.9 389.6L387.5 389.6L389.1 389.6L390.7 389.6L392.3 389.6L393.9 389.5L395.5 389.5L397.1 389.5L398.7 389.5L400.3 389.5L401.9 389.5L403.5 389.5L405.1 389.5L406.7 389.5L408.3 389.4L409.9 389.4L411.5 389.4L413.1 389.4L414.7 389.4L416.3 389.4L417.9 389.4L419.5 389.4L421.1 389.4L422.7 389.4L424.3 389.4L425.9 389.3L427.5 389.3L429.1 389.3L430.7 389.3L432.3 389.3L433.9 389.3L435.5 389.3L437.1 389.2L438.7 389.2L440.3 389.2L441.9 389.2L443.5 389.1L445.1 389.1L446.7 389.1L448.3 389.0L449.9 388.9L451.5 388.9L453.1 388.8L454.7 388.8L456.3 388.7L457.9 388.7L459.5 388.6L461.1 388.6L462.7 388.5L464.3 388.4L465.9 388.4L467.5 388.5L469.1 388.8L470.4 389.6L471.4 391.0L471.9 392.4L472.4 393.9L472.7 395.5L473.0 397.1L473.3 398.7L473.7 400.3L474.0 401.9L474.3 403.4L474.5 405.0L474.8 406.6L475.2 408.2L475.5 409.7L475.9 411.3L476.4 412.8L476.8 414.3L477.4 415.8L477.9 417.3L478.5 418.8L479.0 420.3L479.6 421.8L480.2 423.3L480.8 424.8L481.4 426.3L482.0 427.8L482.7 429.2L483.3 430.7L484.0 432.1L484.7 433.5L485.5 435.0L486.3 436.4L487.0 437.8L487.8 439.2L488.6 440.6L489.4 441.9L490.2 443.3L491.0 444.7L491.9 446.1L492.7 447.4L493.6 448.8L494.5 450.1L495.4 451.4L496.3 452.7L497.2 454.0L498.2 455.3L499.2 456.6L500.2 457.8L501.1 459.1L502.1 460.4L503.0 461.7L504.0 463.0L504.9 464.3L505.9 465.6L506.8 466.9L507.8 468.1L508.8 469.4L509.8 470.6L510.9 471.7L512.0 472.9L513.2 474.0L514.3 475.1L515.5 476.2L516.7 477.3L517.9 478.3L519.2 479.3L520.4 480.3L521.7 481.3L523.0 482.3L524.3 483.2L525.6 484.1L526.9 485.0L528.3 485.9L529.7 486.7L531.0 487.5L532.4 488.2L533.9 489.0L535.3 489.7L536.7 490.4L538.2 491.1L539.6 491.8L541.0 492.5L542.4 493.3L543.9 494.1L545.3 494.8L546.7 495.6L548.1 496.3L549.5 497.1L550.9 497.9L552.3 498.7L553.7 499.4L555.1 500.2L556.5 501.0L557.9 501.8L559.3 502.5L560.7 503.3L562.1 504.1L563.5 504.8L564.9 505.6L566.3 506.3L567.7 507.1L569.2 507.8L570.6 508.6L572.0 509.3L573.4 510.0L574.9 510.7L576.3 511.4L577.7 512.2L579.2 512.9L580.6 513.6L582.0 514.3L583.5 515.0L584.9 515.6L586.4 516.3L587.8 517.0L589.3 517.6L590.8 518.2L592.2 518.8L593.7 519.4L595.2 520.0L596.7 520.6L598.2 521.1L599.7 521.7L601.2 522.2L602.7 522.8L604.2 523.3L605.7 523.9L607.3 524.4L608.8 524.9L610.3 525.5L611.8 526.0L613.3 526.5L614.8 527.0L616.3 527.5L617.8 528.1L619.4 528.6L620.9 529.1L622.4 529.6L623.9 530.1L625.4 530.6L626.9 531.2L628.4 531.7L630.0 532.2L631.5 532.7L633.0 533.2L634.5 533.7L636.1 534.1L637.6 534.6L639.1 535.0L640.7 535.5L642.2 535.9L643.7 536.3L645.3 536.8L646.8 537.2L648.4 537.6L649.9 538.1L651.4 538.5L653.0 538.9L654.5 539.4L656.1 539.8L657.6 540.3L659.1 540.7L660.7 541.2L662.2 541.6L663.7 542.1L665.3 542.5L666.8 542.9L668.4 543.3L669.9 543.7L671.5 544.1L673.0 544.5L674.6 544.8L676.1 545.2L677.7 545.5L679.3 545.9L680.8 546.2L682.4 546.6L684.0 546.9L685.5 547.2L687.1 547.6L688.7 547.9L690.2 548.2L691.8 548.6L693.4 548.9L694.9 549.3L696.5 549.6L698.0 549.9L699.6 550.3L701.2 550.6L702.7 550.9L704.3 551.2L705.9 551.5L707.5 551.8L709.0 552.1L710.6 552.4L712.2 552.7L713.7 553.0L715.3 553.3L716.9 553.6L718.5 553.8L720.1 554.1L721.6 554.3L723.2 554.6L724.8 554.9L726.4 555.1L728.0 555.4L729.5 555.6L731.1 555.9L732.7 556.1L734.3 556.4L735.9 556.6L737.4 556.9L739.0 557.1L740.6 557.4L742.2 557.7L743.7 557.9L745.3 558.2L746.9 558.4L748.5 558.7L750.1 558.9L751.6 559.2L753.2 559.5L754.8 559.7L756.4 560.0L758.0 560.2L759.5 560.5L761.1 560.7L762.7 561.0L764.3 561.3L765.9 561.5L767.4 561.8L769.0 562.0L770.6 562.3L772.2 562.5L773.8 562.8L775.3 563.1L776.9 563.3L778.5 563.6L780.1 563.8L781.6 564.1L783.2 564.4L784.8 564.6L786.4 564.9L788.0 565.1L789.5 565.4L791.1 565.7L792.7 565.9L794.3 566.2L795.9 566.4L797.4 566.7L799.0 566.9L800.6 567.2L802.2 567.4L803.8 567.7L805.3 567.9L806.9 568.2L808.5 568.4L810.1 568.7L811.7 568.9L813.2 569.1L814.8 569.4L816.4 569.6L818.0 569.8L819.6 570.1L821.2 570.3L822.7 570.5L824.3 570.8L825.9 571.0L827.5 571.2L829.1 571.4L830.7 571.7L832.3 571.9L833.8 572.1L835.4 572.3L837.0 572.5L838.6 572.8L840.2 573.0L841.8 573.2L843.3 573.4L844.9 573.6L846.5 573.8L848.1 574.0L849.7 574.2L851.3 574.4L852.9 574.6L854.5 574.8L856.0 575.0L857.6 575.2L859.2 575.4L860.8 575.6L862.4 575.7L864.0 575.6L865.6 575.2L867.1 574.8L868.4 573.9L869.7 572.9L870.9 571.8L872.1 570.8L873.3 569.6L874.4 568.4L875.4 567.2L876.3 566.0L877.2 564.7L878.0 563.3L878.8 561.9L879.6 560.5L880.3 559.1L881.1 557.7L881.8 556.2L882.5 554.8L883.3 553.3L884.0 551.9L884.8 550.5L885.6 549.1L886.4 547.7L887.2 546.4L888.1 545.0L888.9 543.6L889.8 542.3L890.6 540.9L891.5 539.6L892.3 538.2L893.2 536.9L894.0 535.5L894.9 534.1L895.7 532.8L896.5 531.4L897.3 530.0L898.1 528.6L898.9 527.2L899.7 525.8L900.5 524.4L901.2 523.0L902.0 521.6L902.8 520.2L903.6 518.8L904.4 517.4L905.2 516.1L906.0 514.7L906.8 513.3L907.7 512.0L908.5 510.6L909.4 509.3L910.3 508.0L911.2 506.7L912.1 505.3L913.0 504.0L913.9 502.7L914.9 501.4L915.8 500.1L916.7 498.7L917.6 497.4L918.5 496.1L919.4 494.8L920.2 493.4L921.1 492.1L922.0 490.7L922.9 489.4L923.7 488.1L924.6 486.7L925.5 485.4L926.4 484.1L927.3 482.7L928.2 481.4L929.2 480.1L930.1 478.9L931.1 477.6L932.1 476.3L933.1 475.1L934.1 473.8L935.1 472.6L936.1 471.4L937.2 470.1L938.2 468.9L939.3 467.8L940.4 466.6L941.5 465.5L942.7 464.4L943.8 463.3L945.0 462.2L946.2 461.1L947.4 460.1L948.6 459.0L949.8 458.0L951.0 456.9L952.3 455.9L953.5 454.8L954.7 453.8L955.9 452.7L957.1 451.7L958.3 450.7L959.6 449.6L960.8 448.6L962.0 447.6L963.3 446.6L964.5 445.6L965.8 444.6L967.1 443.6L968.3 442.7L969.6 441.7L970.9 440.8L972.2 439.8L973.5 438.9L974.9 438.0L976.2 437.2L977.5 436.3L978.9 435.5L980.3 434.6L981.7 433.9L983.1 433.1L984.5 432.3L985.9 431.6L987.4 430.9L988.8 430.2L990.3 429.6L991.8 428.9L993.2 428.3L994.7 427.8L996.2 427.2L997.7 426.7L999.2 426.2L1000.8 425.7L1002.3 425.2L1003.8 424.8L1005.4 424.3L1006.9 423.9L1008.4 423.4L1010.0 422.9L1011.5 422.5L1013.0 422.0L1014.6 421.5L1016.1 421.0L1017.6 420.6L1019.1 420.1L1020.7 419.6L1022.2 419.1L1023.7 418.6L1025.3 418.2L1026.8 417.7L1028.3 417.3L1029.9 416.8L1031.4 416.4L1033.0 416.0L1034.5 415.6L1036.1 415.2L1037.6 414.8L1039.2 414.5L1040.7 414.1L1042.3 413.7L1043.8 413.4L1045.4 413.0L1047.0 412.7L1048.5 412.3L1050.1 412.0L1051.6 411.6L1053.2 411.3L1054.8 411.0L1056.3 410.6L1057.9 410.3L1059.5 409.9L1061.0 409.6L1062.6 409.3L1064.2 409.0L1065.7 408.7L1067.3 408.4L1068.9 408.1L1070.5 407.8L1072.0 407.5L1073.6 407.2L1075.2 407.0L1076.8 406.8L1078.4 406.5L1079.9 406.3L1081.5 406.1L1083.1 405.8L1084.7 405.6L1086.3 405.4L1087.9 405.2L1089.5 405.0L1091.0 404.8L1092.6 404.5L1094.2 404.3L1095.8 404.1L1097.4 403.9L1099.0 403.7L1100.6 403.5L1102.1 403.3L1103.7 403.2L1105.3 403.0L1106.9 402.8L1108.5 402.6L1110.1 402.4L1111.7 402.2L1113.3 402.0L1114.9 401.8L1116.4 401.6L1118.0 401.5L1119.6 401.3L1121.2 401.1L1122.8 400.9L1124.4 400.7L1126.0 400.5L1127.6 400.3L1129.2 400.2L1130.8 400.0L1132.3 399.8L1133.9 399.6L1135.5 399.4L1137.1 399.3L1138.7 399.1L1140.3 398.9L1141.9 398.7L1143.5 398.5L1145.1 398.4L1146.7 398.2L1148.2 398.0L1149.8 397.8L1151.4 397.7L1153.0 397.5L1154.6 397.4L1156.2 397.2L1157.8 397.1L1159.4 396.9L1161.0 396.8L1162.6 396.7L1164.2 396.5L1165.8 396.4L1167.4 396.3L1169.0 396.2L1170.6 396.0L1172.1 395.9L1173.7 395.8L1175.3 395.7L1176.9 395.6L1178.5 395.5L1180.1 395.3L1181.7 395.2L1183.3 395.1L1184.9 395.0L1186.5 394.9L1188.1 394.8L1189.7 394.7L1191.3 394.6L1192.9 394.5L1194.5 394.4L1196.1 394.3L1197.7 394.2L1199.3 394.1L1200.9 393.9L1202.5 393.8L1204.1 393.7L1205.7 393.6L1207.3 393.5L1208.9 393.4L1210.5 393.3L1212.1 393.2L1213.7 393.1L1215.3 393.0L1216.9 392.9L1218.4 392.8L1220.0 392.8L1221.6 392.7L1223.2 392.6L1224.8 392.5L1226.4 392.4L1228.0 392.3L1229.6 392.2L1231.2 392.1L1232.8 392.0L1234.4 391.9L1236.0 391.8L1237.6 391.7L1239.2 391.6L1240.8 391.6L1242.4 391.5L1244.0 391.4L1245.6 391.3L1247.2 391.2L1248.8 391.1L1250.4 391.0L1252.0 390.9L1253.6 390.8L1255.2 390.7L1256.8 390.6L1258.4 390.6L1260.0 390.5L1261.6 390.4L1263.2 390.3L1264.8 390.2L1266.4 390.1L1268.0 390.0L1269.6 389.9L1271.2 389.8L1272.8 389.7L1274.4 389.7L1276.0 389.6L1277.6 389.5L1279.2 389.4L1280.8 389.3L1282.4 389.2L1283.9 389.2L1285.5 389.1L1287.1 389.0L1288.7 388.9L1290.3 388.9L1291.9 388.8L1293.5 388.7L1295.1 388.6L1296.7 388.6L1298.3 388.5L1299.9 388.4L1301.5 388.4L1303.1 388.3L1304.7 388.3L1306.3 388.2L1307.9 388.1L1309.5 388.1L1311.1 388.0L1312.7 388.0L1314.3 387.9L1315.9 387.9L1317.5 387.8L1319.1 387.8L1320.7 387.7L1322.3 387.7L1323.9 387.6L1325.5 387.6L1327.1 387.6L1328.7 387.5L1330.3 387.5L1331.9 387.4L1333.5 387.4L1335.1 387.3L1336.7 387.3L1338.3 387.3L1339.9 387.2L1341.5 387.2L1343.1 387.1L1344.7 387.1L1346.3 387.0L1347.9 387.0L1349.5 387.0L1351.1 386.9L1352.7 386.9L1354.3 386.8L1355.9 386.8L1357.5 386.8L1359.1 386.7L1360.7 386.7L1362.3 386.6L1363.9 386.6L1365.5 386.5L1367.1 386.5L1368.7 386.5L1370.3 386.4L1371.9 386.4L1373.5 386.3L1375.1 386.3L1376.7 386.2L1378.3 386.2L1379.9 386.1L1381.5 386.1L1383.1 386.0L1384.7 386.0L1386.3 385.9L1387.9 385.9L1389.5 385.8L1391.1 385.8L1392.7 385.7L1394.3 385.6L1395.9 385.6L1397.5 385.5L1399.1 385.5L1400.7 385.4L1402.3 385.4L1403.9 385.3L1405.5 385.3L1407.1 385.2L1408.7 385.2L1410.3 385.1L1411.9 385.0L1413.5 385.0L1415.1 384.9L1416.7 384.9L1418.3 384.8L1419.9 384.8L1421.5 384.7L1423.1 384.6L1424.7 384.6L1426.3 384.5L1427.9 384.5L1429.5 384.4L1431.1 384.4L1432.7 384.3L1434.3 384.2L1435.9 384.2L1437.5 384.1L1439.1 384.1L1440.6 384.0" stroke="#E46C0A" stroke-width="11.0"/>
</g>
<line x1="1099.7" y1="307.4" x2="1071.0" y2="362.0" stroke="#E46C0A" stroke-width="3.0"/><polygon points="1048.7,404.5 1055.8,351.7 1088.1,368.7" fill="#E46C0A"/>
<line x1="1136.4" y1="709.3" x2="1068.7" y2="611.5" stroke="#000000" stroke-width="3.0"/><polygon points="1041.4,572.0 1084.9,602.7 1054.8,623.5" fill="#000000"/>
<line x1="886.7" y1="1070.9" x2="819.7" y2="974.2" stroke="#C800AE" stroke-width="3.0"/><polygon points="792.4,934.7 835.9,965.4 805.9,986.2" fill="#C800AE"/>
<text transform="translate(261.7 75.3) scale(1.0146 1.030)">80 ppm CO</text>
<text transform="translate(432.2 158.5) scale(1.0000 1.000)">in</text>
<text transform="translate(798.6 158.0) scale(1.0000 1.000)">out</text>
<text transform="translate(225.5 205.1) scale(1.0000 1.040)" text-anchor="end">1.0</text>
<text transform="translate(225.5 439.7) scale(1.0000 1.040)" text-anchor="end">0.8</text>
<text transform="translate(225.5 672.9) scale(1.0000 1.040)" text-anchor="end">0.6</text>
<text transform="translate(225.5 906.2) scale(1.0000 1.040)" text-anchor="end">0.4</text>
<text transform="translate(225.5 1139.4) scale(1.0000 1.040)" text-anchor="end">0.2</text>
<text transform="translate(225.5 1371.4) scale(1.0000 1.040)" text-anchor="end">0</text>
<text transform="translate(262.2 1447.5) scale(1.0000 1.040)" text-anchor="middle">0</text>
<text transform="translate(457.8 1447.5) scale(1.0000 1.040)" text-anchor="middle">5</text>
<text transform="translate(653.3 1447.5) scale(1.0000 1.040)" text-anchor="middle">10</text>
<text transform="translate(848.9 1447.5) scale(1.0000 1.040)" text-anchor="middle">15</text>
<text transform="translate(1044.5 1447.5) scale(1.0000 1.040)" text-anchor="middle">20</text>
<text transform="translate(1240.0 1447.5) scale(1.0000 1.040)" text-anchor="middle">25</text>
<text transform="translate(1435.6 1447.5) scale(1.0000 1.040)" text-anchor="middle">30</text>
<text transform="translate(658.0 1548.0) scale(1.0040 1.020)">Time / min</text>
<text transform="translate(73.3 1130.3) rotate(-90) scale(1.0000 1.020)">Sensor current / mA</text>
<text transform="translate(1089.5 276.4) scale(1.0000 1.030)" style="fill:#E46C0A">Pt/TiO<tspan class="sub" dx="1.5" dy="14">2</tspan></text>
<text transform="translate(1113.3 788.8) scale(1.0000 1.030)">Pd/TiO<tspan class="sub" dx="1.5" dy="11.5">2</tspan></text>
<text transform="translate(893.0 1147.0) scale(1.0080 1.030)" style="fill:#C800AE">Pd-<tspan class="it">64</tspan>Pt/TiO<tspan class="sub" dx="1.5" dy="12">2</tspan></text>
</svg></body></html>
